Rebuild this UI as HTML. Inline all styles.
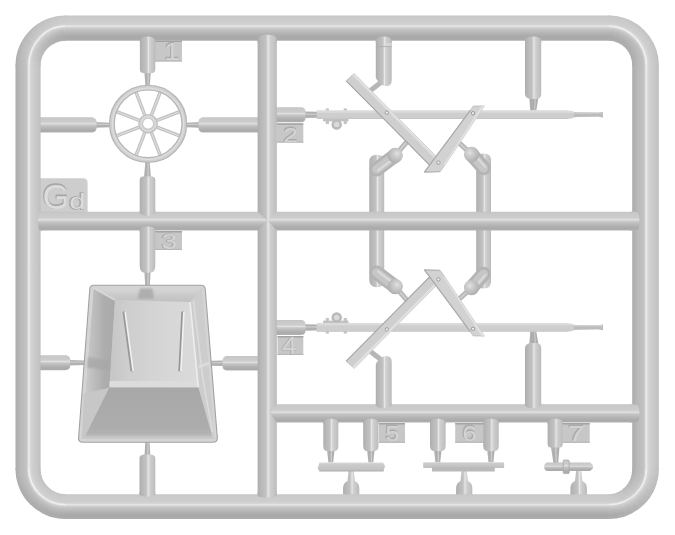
<!DOCTYPE html>
<html><head><meta charset="utf-8"><title>Sprue Gd</title>
<style>
html,body{margin:0;padding:0;background:#ffffff;}
body{width:675px;height:535px;overflow:hidden;font-family:"Liberation Sans",sans-serif;}
svg text{font-family:"Liberation Sans",sans-serif;}
</style></head><body>
<svg width="675" height="535" viewBox="0 0 675 535" style="display:block">
<defs><linearGradient id="gv" x1="0" x2="1" y1="0" y2="0"><stop offset="0.000" stop-color="#acacac"/><stop offset="0.070" stop-color="#b2b2b2"/><stop offset="0.200" stop-color="#b9b9b9"/><stop offset="0.420" stop-color="#c1c1c1"/><stop offset="0.490" stop-color="#d0d0d0"/><stop offset="0.550" stop-color="#e8e8e8"/><stop offset="0.610" stop-color="#d6d6d6"/><stop offset="0.700" stop-color="#cccccc"/><stop offset="0.850" stop-color="#c5c5c5"/><stop offset="0.950" stop-color="#bebebe"/><stop offset="1.000" stop-color="#b8b8b8"/></linearGradient><linearGradient id="gh" x1="0" x2="0" y1="0" y2="1"><stop offset="0.000" stop-color="#c2c2c2"/><stop offset="0.060" stop-color="#c8c8c8"/><stop offset="0.300" stop-color="#cccccc"/><stop offset="0.380" stop-color="#d4d4d4"/><stop offset="0.430" stop-color="#e4e4e4"/><stop offset="0.480" stop-color="#d0d0d0"/><stop offset="0.550" stop-color="#c4c4c4"/><stop offset="0.700" stop-color="#b6b6b6"/><stop offset="0.860" stop-color="#ababab"/><stop offset="0.940" stop-color="#acacac"/><stop offset="1.000" stop-color="#b4b4b4"/></linearGradient>

<linearGradient id="gbar" x1="0" x2="0" y1="0" y2="1">
 <stop offset="0" stop-color="#dcdcdc"/><stop offset="0.25" stop-color="#dadada"/>
 <stop offset="0.3" stop-color="#cfcfcf"/><stop offset="0.9" stop-color="#cdcdcd"/>
 <stop offset="1" stop-color="#bcbcbc"/>
</linearGradient>
<linearGradient id="gfront" x1="0" x2="0" y1="0" y2="1">
 <stop offset="0" stop-color="#bdbdbd"/><stop offset="1" stop-color="#c5c5c5"/>
</linearGradient>
<linearGradient id="gface" x1="0" x2="1" y1="0" y2="0">
 <stop offset="0" stop-color="#d0d0d0"/><stop offset="0.6" stop-color="#d6d6d6"/><stop offset="1" stop-color="#dbdbdb"/>
</linearGradient>
<linearGradient id="gleft" x1="0" x2="1" y1="0" y2="0">
 <stop offset="0" stop-color="#c8c8c8"/><stop offset="0.35" stop-color="#bcbcbc"/><stop offset="0.7" stop-color="#cbcbcb"/><stop offset="1" stop-color="#c4c4c4"/>
</linearGradient>
<filter id="b05" x="-5%" y="-5%" width="110%" height="110%"><feGaussianBlur stdDeviation="0.45"/></filter>
<filter id="b1" x="-5%" y="-5%" width="110%" height="110%"><feGaussianBlur stdDeviation="1"/></filter>
<filter id="b2" x="-5%" y="-5%" width="110%" height="110%"><feGaussianBlur stdDeviation="2.2"/></filter>
<clipPath id="cf"><path d="M65.5,15.5 H609.0 A49.799999999999955,50.0 0 0 1 658.8,65.5 V469.0 A49.799999999999955,50.0 0 0 1 609.0,519.0 H65.5 A50.0,50.0 0 0 1 15.5,469.0 V65.5 A50.0,50.0 0 0 1 65.5,15.5 Z M65.5,40.8 H609.0 A23.200000000000045,24.700000000000003 0 0 1 632.2,65.5 V469.0 A23.200000000000045,25.19999999999999 0 0 1 609.0,494.2 H65.5 A24.9,25.19999999999999 0 0 1 40.6,469.0 V65.5 A24.9,24.700000000000003 0 0 1 65.5,40.8 Z" clip-rule="evenodd" fill-rule="evenodd"/></clipPath><linearGradient id="gft" gradientUnits="userSpaceOnUse" x1="0" y1="15.5" x2="0" y2="40.8"><stop offset="0.000" stop-color="#c6c6c6"/><stop offset="0.060" stop-color="#cacaca"/><stop offset="0.300" stop-color="#cecece"/><stop offset="0.370" stop-color="#d4d4d4"/><stop offset="0.420" stop-color="#e0e0e0"/><stop offset="0.480" stop-color="#d0d0d0"/><stop offset="0.550" stop-color="#c4c4c4"/><stop offset="0.700" stop-color="#b4b4b4"/><stop offset="0.840" stop-color="#a9a9a9"/><stop offset="0.940" stop-color="#aaaaaa"/><stop offset="1.000" stop-color="#b0b0b0"/></linearGradient><linearGradient id="gfb" gradientUnits="userSpaceOnUse" x1="0" y1="494.2" x2="0" y2="519.0"><stop offset="0.000" stop-color="#c6c6c6"/><stop offset="0.060" stop-color="#cacaca"/><stop offset="0.300" stop-color="#cecece"/><stop offset="0.370" stop-color="#d4d4d4"/><stop offset="0.420" stop-color="#e0e0e0"/><stop offset="0.480" stop-color="#d0d0d0"/><stop offset="0.550" stop-color="#c4c4c4"/><stop offset="0.700" stop-color="#b4b4b4"/><stop offset="0.840" stop-color="#a9a9a9"/><stop offset="0.940" stop-color="#aaaaaa"/><stop offset="1.000" stop-color="#b0b0b0"/></linearGradient><linearGradient id="gfl" gradientUnits="userSpaceOnUse" x1="15.5" y1="0" x2="40.6" y2="0"><stop offset="0.000" stop-color="#acacac"/><stop offset="0.070" stop-color="#b0b0b0"/><stop offset="0.200" stop-color="#b9b9b9"/><stop offset="0.420" stop-color="#c1c1c1"/><stop offset="0.480" stop-color="#d0d0d0"/><stop offset="0.530" stop-color="#e8e8e8"/><stop offset="0.590" stop-color="#d8d8d8"/><stop offset="0.680" stop-color="#cfcfcf"/><stop offset="0.850" stop-color="#c8c8c8"/><stop offset="0.950" stop-color="#c2c2c2"/><stop offset="1.000" stop-color="#bebebe"/></linearGradient><linearGradient id="gfr" gradientUnits="userSpaceOnUse" x1="632.2" y1="0" x2="658.8" y2="0"><stop offset="0.000" stop-color="#acacac"/><stop offset="0.070" stop-color="#b0b0b0"/><stop offset="0.200" stop-color="#b9b9b9"/><stop offset="0.420" stop-color="#c1c1c1"/><stop offset="0.480" stop-color="#d0d0d0"/><stop offset="0.530" stop-color="#e8e8e8"/><stop offset="0.590" stop-color="#d8d8d8"/><stop offset="0.680" stop-color="#cfcfcf"/><stop offset="0.850" stop-color="#c8c8c8"/><stop offset="0.950" stop-color="#c2c2c2"/><stop offset="1.000" stop-color="#bebebe"/></linearGradient><linearGradient id="gd1" gradientUnits="objectBoundingBox" x1="0.15" y1="0.15" x2="0.85" y2="0.85"><stop offset="0" stop-color="#adadad"/><stop offset="0.35" stop-color="#bcbcbc"/><stop offset="0.5" stop-color="#dcdcdc"/><stop offset="0.65" stop-color="#c8c8c8"/><stop offset="1" stop-color="#b8b8b8"/></linearGradient><radialGradient id="gball" cx="0.62" cy="0.38" r="0.7"><stop offset="0" stop-color="#e2e2e2"/><stop offset="0.3" stop-color="#cecece"/><stop offset="0.75" stop-color="#b8b8b8"/><stop offset="1" stop-color="#a8a8a8"/></radialGradient><radialGradient id="gball2" cx="0.38" cy="0.38" r="0.7"><stop offset="0" stop-color="#e2e2e2"/><stop offset="0.3" stop-color="#cecece"/><stop offset="0.75" stop-color="#b8b8b8"/><stop offset="1" stop-color="#a8a8a8"/></radialGradient><linearGradient id="bxl" gradientUnits="userSpaceOnUse" x1="86" y1="0" x2="114" y2="0"><stop offset="0" stop-color="#cacaca"/><stop offset="0.3" stop-color="#bcbcbc"/><stop offset="0.65" stop-color="#adadad"/><stop offset="1" stop-color="#aaaaaa"/></linearGradient><linearGradient id="bxt" gradientUnits="userSpaceOnUse" x1="0" y1="288" x2="0" y2="301.5"><stop offset="0" stop-color="#d6d6d6"/><stop offset="0.5" stop-color="#cbcbcb"/><stop offset="1" stop-color="#c0c0c0"/></linearGradient><linearGradient id="bxf" gradientUnits="userSpaceOnUse" x1="110" y1="0" x2="198" y2="0"><stop offset="0" stop-color="#c6c6c6"/><stop offset="0.2" stop-color="#cecece"/><stop offset="0.6" stop-color="#d6d6d6"/><stop offset="1" stop-color="#dadada"/></linearGradient><linearGradient id="bxfr" gradientUnits="userSpaceOnUse" x1="0" y1="387" x2="0" y2="437"><stop offset="0" stop-color="#a8a8a8"/><stop offset="0.8" stop-color="#acacac"/><stop offset="0.93" stop-color="#b2b2b2"/><stop offset="1" stop-color="#c0c0c0"/></linearGradient><linearGradient id="gp" x1="0" x2="0" y1="0" y2="1"><stop offset="0" stop-color="#dcdcdc"/><stop offset="0.22" stop-color="#cccccc"/><stop offset="0.8" stop-color="#c2c2c2"/><stop offset="1" stop-color="#adadad"/></linearGradient><radialGradient id="ctl0" gradientUnits="userSpaceOnUse" cx="65.5" cy="65.5" r="50.00"><stop offset="0.4978" stop-color="#bdbdbd"/><stop offset="0.5187" stop-color="#c0c0c0"/><stop offset="0.5396" stop-color="#c3c3c3"/><stop offset="0.5606" stop-color="#c5c5c5"/><stop offset="0.5815" stop-color="#c7c7c7"/><stop offset="0.6024" stop-color="#c9c9c9"/><stop offset="0.6233" stop-color="#cbcbcb"/><stop offset="0.6443" stop-color="#cdcdcd"/><stop offset="0.6652" stop-color="#cfcfcf"/><stop offset="0.6861" stop-color="#d3d3d3"/><stop offset="0.7070" stop-color="#d9d9d9"/><stop offset="0.7280" stop-color="#e3e3e3"/><stop offset="0.7489" stop-color="#d9d9d9"/><stop offset="0.7698" stop-color="#cbcbcb"/><stop offset="0.7908" stop-color="#c2c2c2"/><stop offset="0.8117" stop-color="#c0c0c0"/><stop offset="0.8326" stop-color="#bfbfbf"/><stop offset="0.8535" stop-color="#bdbdbd"/><stop offset="0.8744" stop-color="#bcbcbc"/><stop offset="0.8954" stop-color="#bababa"/><stop offset="0.9163" stop-color="#b8b8b8"/><stop offset="0.9372" stop-color="#b5b5b5"/><stop offset="0.9581" stop-color="#b2b2b2"/><stop offset="0.9791" stop-color="#b0b0b0"/><stop offset="1.0000" stop-color="#adadad"/></radialGradient><radialGradient id="ctl1" gradientUnits="userSpaceOnUse" cx="65.5" cy="65.5" r="50.00"><stop offset="0.4974" stop-color="#bcbcbc"/><stop offset="0.5183" stop-color="#bebebe"/><stop offset="0.5393" stop-color="#c0c0c0"/><stop offset="0.5602" stop-color="#c2c2c2"/><stop offset="0.5812" stop-color="#c4c4c4"/><stop offset="0.6021" stop-color="#c6c6c6"/><stop offset="0.6230" stop-color="#c8c8c8"/><stop offset="0.6440" stop-color="#cacaca"/><stop offset="0.6649" stop-color="#cdcdcd"/><stop offset="0.6859" stop-color="#d1d1d1"/><stop offset="0.7068" stop-color="#d6d6d6"/><stop offset="0.7278" stop-color="#e0e0e0"/><stop offset="0.7487" stop-color="#d8d8d8"/><stop offset="0.7696" stop-color="#cccccc"/><stop offset="0.7906" stop-color="#c5c5c5"/><stop offset="0.8115" stop-color="#c3c3c3"/><stop offset="0.8325" stop-color="#c1c1c1"/><stop offset="0.8534" stop-color="#bfbfbf"/><stop offset="0.8744" stop-color="#bebebe"/><stop offset="0.8953" stop-color="#bcbcbc"/><stop offset="0.9162" stop-color="#bababa"/><stop offset="0.9372" stop-color="#b7b7b7"/><stop offset="0.9581" stop-color="#b5b5b5"/><stop offset="0.9791" stop-color="#b2b2b2"/><stop offset="1.0000" stop-color="#b0b0b0"/></radialGradient><radialGradient id="ctl2" gradientUnits="userSpaceOnUse" cx="65.5" cy="65.5" r="50.00"><stop offset="0.4970" stop-color="#bababa"/><stop offset="0.5180" stop-color="#bcbcbc"/><stop offset="0.5389" stop-color="#bdbdbd"/><stop offset="0.5599" stop-color="#bfbfbf"/><stop offset="0.5808" stop-color="#c1c1c1"/><stop offset="0.6018" stop-color="#c3c3c3"/><stop offset="0.6228" stop-color="#c5c5c5"/><stop offset="0.6437" stop-color="#c7c7c7"/><stop offset="0.6647" stop-color="#cacaca"/><stop offset="0.6856" stop-color="#cecece"/><stop offset="0.7066" stop-color="#d3d3d3"/><stop offset="0.7275" stop-color="#dddddd"/><stop offset="0.7485" stop-color="#d6d6d6"/><stop offset="0.7695" stop-color="#cdcdcd"/><stop offset="0.7904" stop-color="#c8c8c8"/><stop offset="0.8114" stop-color="#c5c5c5"/><stop offset="0.8323" stop-color="#c3c3c3"/><stop offset="0.8533" stop-color="#c1c1c1"/><stop offset="0.8742" stop-color="#bfbfbf"/><stop offset="0.8952" stop-color="#bebebe"/><stop offset="0.9162" stop-color="#bcbcbc"/><stop offset="0.9371" stop-color="#bababa"/><stop offset="0.9581" stop-color="#b7b7b7"/><stop offset="0.9790" stop-color="#b5b5b5"/><stop offset="1.0000" stop-color="#b2b2b2"/></radialGradient><radialGradient id="ctl3" gradientUnits="userSpaceOnUse" cx="65.5" cy="65.5" r="50.00"><stop offset="0.4966" stop-color="#b9b9b9"/><stop offset="0.5176" stop-color="#bababa"/><stop offset="0.5385" stop-color="#bbbbbb"/><stop offset="0.5595" stop-color="#bcbcbc"/><stop offset="0.5805" stop-color="#bebebe"/><stop offset="0.6015" stop-color="#c0c0c0"/><stop offset="0.6224" stop-color="#c2c2c2"/><stop offset="0.6434" stop-color="#c5c5c5"/><stop offset="0.6644" stop-color="#c8c8c8"/><stop offset="0.6854" stop-color="#cccccc"/><stop offset="0.7063" stop-color="#d1d1d1"/><stop offset="0.7273" stop-color="#dadada"/><stop offset="0.7483" stop-color="#d5d5d5"/><stop offset="0.7693" stop-color="#cfcfcf"/><stop offset="0.7903" stop-color="#cbcbcb"/><stop offset="0.8112" stop-color="#c7c7c7"/><stop offset="0.8322" stop-color="#c5c5c5"/><stop offset="0.8532" stop-color="#c2c2c2"/><stop offset="0.8741" stop-color="#c1c1c1"/><stop offset="0.8951" stop-color="#c0c0c0"/><stop offset="0.9161" stop-color="#bebebe"/><stop offset="0.9371" stop-color="#bcbcbc"/><stop offset="0.9581" stop-color="#bababa"/><stop offset="0.9790" stop-color="#b8b8b8"/><stop offset="1.0000" stop-color="#b5b5b5"/></radialGradient><radialGradient id="ctl4" gradientUnits="userSpaceOnUse" cx="65.5" cy="65.5" r="50.00"><stop offset="0.4962" stop-color="#b8b8b8"/><stop offset="0.5172" stop-color="#b8b8b8"/><stop offset="0.5382" stop-color="#b8b8b8"/><stop offset="0.5592" stop-color="#b9b9b9"/><stop offset="0.5802" stop-color="#bbbbbb"/><stop offset="0.6012" stop-color="#bdbdbd"/><stop offset="0.6221" stop-color="#bfbfbf"/><stop offset="0.6431" stop-color="#c2c2c2"/><stop offset="0.6641" stop-color="#c5c5c5"/><stop offset="0.6851" stop-color="#c9c9c9"/><stop offset="0.7061" stop-color="#cecece"/><stop offset="0.7271" stop-color="#d7d7d7"/><stop offset="0.7481" stop-color="#d4d4d4"/><stop offset="0.7691" stop-color="#d0d0d0"/><stop offset="0.7901" stop-color="#cfcfcf"/><stop offset="0.8111" stop-color="#c9c9c9"/><stop offset="0.8321" stop-color="#c6c6c6"/><stop offset="0.8531" stop-color="#c4c4c4"/><stop offset="0.8740" stop-color="#c3c3c3"/><stop offset="0.8950" stop-color="#c2c2c2"/><stop offset="0.9160" stop-color="#c0c0c0"/><stop offset="0.9370" stop-color="#bebebe"/><stop offset="0.9580" stop-color="#bcbcbc"/><stop offset="0.9790" stop-color="#bababa"/><stop offset="1.0000" stop-color="#b8b8b8"/></radialGradient><radialGradient id="ctl5" gradientUnits="userSpaceOnUse" cx="65.5" cy="65.5" r="50.00"><stop offset="0.4958" stop-color="#b6b6b6"/><stop offset="0.5168" stop-color="#b6b6b6"/><stop offset="0.5378" stop-color="#b6b6b6"/><stop offset="0.5588" stop-color="#b6b6b6"/><stop offset="0.5798" stop-color="#b8b8b8"/><stop offset="0.6008" stop-color="#bababa"/><stop offset="0.6219" stop-color="#bdbdbd"/><stop offset="0.6429" stop-color="#bfbfbf"/><stop offset="0.6639" stop-color="#c3c3c3"/><stop offset="0.6849" stop-color="#c7c7c7"/><stop offset="0.7059" stop-color="#cccccc"/><stop offset="0.7269" stop-color="#d4d4d4"/><stop offset="0.7479" stop-color="#d2d2d2"/><stop offset="0.7689" stop-color="#d1d1d1"/><stop offset="0.7899" stop-color="#d2d2d2"/><stop offset="0.8109" stop-color="#cbcbcb"/><stop offset="0.8319" stop-color="#c8c8c8"/><stop offset="0.8529" stop-color="#c6c6c6"/><stop offset="0.8740" stop-color="#c5c5c5"/><stop offset="0.8950" stop-color="#c4c4c4"/><stop offset="0.9160" stop-color="#c2c2c2"/><stop offset="0.9370" stop-color="#c1c1c1"/><stop offset="0.9580" stop-color="#bfbfbf"/><stop offset="0.9790" stop-color="#bdbdbd"/><stop offset="1.0000" stop-color="#bababa"/></radialGradient><radialGradient id="ctl6" gradientUnits="userSpaceOnUse" cx="65.5" cy="65.5" r="50.00"><stop offset="0.4954" stop-color="#b5b5b5"/><stop offset="0.5164" stop-color="#b3b3b3"/><stop offset="0.5375" stop-color="#b3b3b3"/><stop offset="0.5585" stop-color="#b4b4b4"/><stop offset="0.5795" stop-color="#b4b4b4"/><stop offset="0.6005" stop-color="#b7b7b7"/><stop offset="0.6216" stop-color="#bababa"/><stop offset="0.6426" stop-color="#bdbdbd"/><stop offset="0.6636" stop-color="#c0c0c0"/><stop offset="0.6846" stop-color="#c5c5c5"/><stop offset="0.7056" stop-color="#c9c9c9"/><stop offset="0.7267" stop-color="#d0d0d0"/><stop offset="0.7477" stop-color="#d1d1d1"/><stop offset="0.7687" stop-color="#d2d2d2"/><stop offset="0.7898" stop-color="#d5d5d5"/><stop offset="0.8108" stop-color="#cecece"/><stop offset="0.8318" stop-color="#cacaca"/><stop offset="0.8528" stop-color="#c8c8c8"/><stop offset="0.8739" stop-color="#c7c7c7"/><stop offset="0.8949" stop-color="#c6c6c6"/><stop offset="0.9159" stop-color="#c4c4c4"/><stop offset="0.9369" stop-color="#c3c3c3"/><stop offset="0.9579" stop-color="#c1c1c1"/><stop offset="0.9790" stop-color="#c0c0c0"/><stop offset="1.0000" stop-color="#bdbdbd"/></radialGradient><radialGradient id="ctl7" gradientUnits="userSpaceOnUse" cx="65.5" cy="65.5" r="50.00"><stop offset="0.4950" stop-color="#b4b4b4"/><stop offset="0.5160" stop-color="#b1b1b1"/><stop offset="0.5371" stop-color="#b0b0b0"/><stop offset="0.5581" stop-color="#b1b1b1"/><stop offset="0.5792" stop-color="#b1b1b1"/><stop offset="0.6002" stop-color="#b4b4b4"/><stop offset="0.6212" stop-color="#b7b7b7"/><stop offset="0.6423" stop-color="#bababa"/><stop offset="0.6633" stop-color="#bebebe"/><stop offset="0.6844" stop-color="#c2c2c2"/><stop offset="0.7054" stop-color="#c7c7c7"/><stop offset="0.7265" stop-color="#cdcdcd"/><stop offset="0.7475" stop-color="#d0d0d0"/><stop offset="0.7685" stop-color="#d3d3d3"/><stop offset="0.7896" stop-color="#d8d8d8"/><stop offset="0.8106" stop-color="#d0d0d0"/><stop offset="0.8317" stop-color="#cccccc"/><stop offset="0.8527" stop-color="#c9c9c9"/><stop offset="0.8738" stop-color="#c9c9c9"/><stop offset="0.8948" stop-color="#c8c8c8"/><stop offset="0.9158" stop-color="#c7c7c7"/><stop offset="0.9369" stop-color="#c5c5c5"/><stop offset="0.9579" stop-color="#c4c4c4"/><stop offset="0.9790" stop-color="#c2c2c2"/><stop offset="1.0000" stop-color="#c0c0c0"/></radialGradient><radialGradient id="ctl8" gradientUnits="userSpaceOnUse" cx="65.5" cy="65.5" r="50.00"><stop offset="0.4946" stop-color="#b2b2b2"/><stop offset="0.5157" stop-color="#afafaf"/><stop offset="0.5367" stop-color="#aeaeae"/><stop offset="0.5578" stop-color="#aeaeae"/><stop offset="0.5788" stop-color="#aeaeae"/><stop offset="0.5999" stop-color="#b1b1b1"/><stop offset="0.6210" stop-color="#b4b4b4"/><stop offset="0.6420" stop-color="#b7b7b7"/><stop offset="0.6631" stop-color="#bbbbbb"/><stop offset="0.6841" stop-color="#c0c0c0"/><stop offset="0.7052" stop-color="#c4c4c4"/><stop offset="0.7262" stop-color="#cacaca"/><stop offset="0.7473" stop-color="#cfcfcf"/><stop offset="0.7684" stop-color="#d4d4d4"/><stop offset="0.7894" stop-color="#dbdbdb"/><stop offset="0.8105" stop-color="#d2d2d2"/><stop offset="0.8315" stop-color="#cecece"/><stop offset="0.8526" stop-color="#cbcbcb"/><stop offset="0.8737" stop-color="#cacaca"/><stop offset="0.8947" stop-color="#cacaca"/><stop offset="0.9158" stop-color="#c9c9c9"/><stop offset="0.9368" stop-color="#c8c8c8"/><stop offset="0.9579" stop-color="#c7c7c7"/><stop offset="0.9789" stop-color="#c5c5c5"/><stop offset="1.0000" stop-color="#c2c2c2"/></radialGradient><radialGradient id="ctl9" gradientUnits="userSpaceOnUse" cx="65.5" cy="65.5" r="50.00"><stop offset="0.4942" stop-color="#b1b1b1"/><stop offset="0.5153" stop-color="#adadad"/><stop offset="0.5364" stop-color="#ababab"/><stop offset="0.5574" stop-color="#ababab"/><stop offset="0.5785" stop-color="#ababab"/><stop offset="0.5996" stop-color="#aeaeae"/><stop offset="0.6206" stop-color="#b1b1b1"/><stop offset="0.6417" stop-color="#b5b5b5"/><stop offset="0.6628" stop-color="#b9b9b9"/><stop offset="0.6839" stop-color="#bdbdbd"/><stop offset="0.7050" stop-color="#c2c2c2"/><stop offset="0.7260" stop-color="#c7c7c7"/><stop offset="0.7471" stop-color="#cdcdcd"/><stop offset="0.7682" stop-color="#d5d5d5"/><stop offset="0.7893" stop-color="#dedede"/><stop offset="0.8103" stop-color="#d4d4d4"/><stop offset="0.8314" stop-color="#d0d0d0"/><stop offset="0.8525" stop-color="#cdcdcd"/><stop offset="0.8736" stop-color="#cccccc"/><stop offset="0.8946" stop-color="#cccccc"/><stop offset="0.9157" stop-color="#cbcbcb"/><stop offset="0.9368" stop-color="#cacaca"/><stop offset="0.9578" stop-color="#c9c9c9"/><stop offset="0.9789" stop-color="#c7c7c7"/><stop offset="1.0000" stop-color="#c5c5c5"/></radialGradient><radialGradient id="ctr0" gradientUnits="userSpaceOnUse" cx="609.0" cy="65.5" r="49.99"><stop offset="0.4926" stop-color="#b0b0b0"/><stop offset="0.5137" stop-color="#acacac"/><stop offset="0.5349" stop-color="#aaaaaa"/><stop offset="0.5560" stop-color="#aaaaaa"/><stop offset="0.5772" stop-color="#aaaaaa"/><stop offset="0.5983" stop-color="#adadad"/><stop offset="0.6194" stop-color="#b1b1b1"/><stop offset="0.6406" stop-color="#b4b4b4"/><stop offset="0.6617" stop-color="#b8b8b8"/><stop offset="0.6829" stop-color="#bcbcbc"/><stop offset="0.7040" stop-color="#c0c0c0"/><stop offset="0.7252" stop-color="#c6c6c6"/><stop offset="0.7463" stop-color="#cdcdcd"/><stop offset="0.7674" stop-color="#d7d7d7"/><stop offset="0.7886" stop-color="#dfdfdf"/><stop offset="0.8097" stop-color="#d5d5d5"/><stop offset="0.8309" stop-color="#d1d1d1"/><stop offset="0.8520" stop-color="#cecece"/><stop offset="0.8731" stop-color="#cdcdcd"/><stop offset="0.8943" stop-color="#cccccc"/><stop offset="0.9154" stop-color="#cccccc"/><stop offset="0.9366" stop-color="#cbcbcb"/><stop offset="0.9577" stop-color="#cacaca"/><stop offset="0.9789" stop-color="#c8c8c8"/><stop offset="1.0000" stop-color="#c6c6c6"/></radialGradient><radialGradient id="ctr1" gradientUnits="userSpaceOnUse" cx="609.0" cy="65.5" r="49.97"><stop offset="0.4898" stop-color="#afafaf"/><stop offset="0.5111" stop-color="#acacac"/><stop offset="0.5323" stop-color="#ababab"/><stop offset="0.5536" stop-color="#ababab"/><stop offset="0.5748" stop-color="#ababab"/><stop offset="0.5961" stop-color="#afafaf"/><stop offset="0.6173" stop-color="#b2b2b2"/><stop offset="0.6386" stop-color="#b5b5b5"/><stop offset="0.6599" stop-color="#b8b8b8"/><stop offset="0.6811" stop-color="#bdbdbd"/><stop offset="0.7024" stop-color="#c1c1c1"/><stop offset="0.7236" stop-color="#c6c6c6"/><stop offset="0.7449" stop-color="#cfcfcf"/><stop offset="0.7662" stop-color="#d8d8d8"/><stop offset="0.7874" stop-color="#dedede"/><stop offset="0.8087" stop-color="#d5d5d5"/><stop offset="0.8299" stop-color="#d1d1d1"/><stop offset="0.8512" stop-color="#cecece"/><stop offset="0.8724" stop-color="#cdcdcd"/><stop offset="0.8937" stop-color="#cccccc"/><stop offset="0.9150" stop-color="#cbcbcb"/><stop offset="0.9362" stop-color="#cacaca"/><stop offset="0.9575" stop-color="#c9c9c9"/><stop offset="0.9787" stop-color="#c8c8c8"/><stop offset="1.0000" stop-color="#c5c5c5"/></radialGradient><radialGradient id="ctr2" gradientUnits="userSpaceOnUse" cx="609.0" cy="65.5" r="49.95"><stop offset="0.4870" stop-color="#afafaf"/><stop offset="0.5084" stop-color="#acacac"/><stop offset="0.5297" stop-color="#acacac"/><stop offset="0.5511" stop-color="#acacac"/><stop offset="0.5725" stop-color="#adadad"/><stop offset="0.5939" stop-color="#b0b0b0"/><stop offset="0.6152" stop-color="#b3b3b3"/><stop offset="0.6366" stop-color="#b6b6b6"/><stop offset="0.6580" stop-color="#b9b9b9"/><stop offset="0.6794" stop-color="#bdbdbd"/><stop offset="0.7007" stop-color="#c1c1c1"/><stop offset="0.7221" stop-color="#c7c7c7"/><stop offset="0.7435" stop-color="#d0d0d0"/><stop offset="0.7649" stop-color="#dadada"/><stop offset="0.7862" stop-color="#dedede"/><stop offset="0.8076" stop-color="#d5d5d5"/><stop offset="0.8290" stop-color="#d1d1d1"/><stop offset="0.8504" stop-color="#cecece"/><stop offset="0.8717" stop-color="#cdcdcd"/><stop offset="0.8931" stop-color="#cccccc"/><stop offset="0.9145" stop-color="#cbcbcb"/><stop offset="0.9359" stop-color="#cacaca"/><stop offset="0.9572" stop-color="#c9c9c9"/><stop offset="0.9786" stop-color="#c7c7c7"/><stop offset="1.0000" stop-color="#c4c4c4"/></radialGradient><radialGradient id="ctr3" gradientUnits="userSpaceOnUse" cx="609.0" cy="65.5" r="49.93"><stop offset="0.4842" stop-color="#afafaf"/><stop offset="0.5057" stop-color="#adadad"/><stop offset="0.5272" stop-color="#acacac"/><stop offset="0.5487" stop-color="#adadad"/><stop offset="0.5701" stop-color="#aeaeae"/><stop offset="0.5916" stop-color="#b1b1b1"/><stop offset="0.6131" stop-color="#b4b4b4"/><stop offset="0.6346" stop-color="#b6b6b6"/><stop offset="0.6561" stop-color="#bababa"/><stop offset="0.6776" stop-color="#bdbdbd"/><stop offset="0.6991" stop-color="#c1c1c1"/><stop offset="0.7206" stop-color="#c7c7c7"/><stop offset="0.7421" stop-color="#d1d1d1"/><stop offset="0.7636" stop-color="#dbdbdb"/><stop offset="0.7851" stop-color="#dddddd"/><stop offset="0.8066" stop-color="#d5d5d5"/><stop offset="0.8281" stop-color="#d1d1d1"/><stop offset="0.8496" stop-color="#cecece"/><stop offset="0.8710" stop-color="#cdcdcd"/><stop offset="0.8925" stop-color="#cccccc"/><stop offset="0.9140" stop-color="#cbcbcb"/><stop offset="0.9355" stop-color="#c9c9c9"/><stop offset="0.9570" stop-color="#c8c8c8"/><stop offset="0.9785" stop-color="#c6c6c6"/><stop offset="1.0000" stop-color="#c3c3c3"/></radialGradient><radialGradient id="ctr4" gradientUnits="userSpaceOnUse" cx="609.0" cy="65.5" r="49.91"><stop offset="0.4814" stop-color="#aeaeae"/><stop offset="0.5030" stop-color="#adadad"/><stop offset="0.5246" stop-color="#adadad"/><stop offset="0.5462" stop-color="#aeaeae"/><stop offset="0.5678" stop-color="#afafaf"/><stop offset="0.5894" stop-color="#b2b2b2"/><stop offset="0.6110" stop-color="#b5b5b5"/><stop offset="0.6326" stop-color="#b7b7b7"/><stop offset="0.6542" stop-color="#bababa"/><stop offset="0.6759" stop-color="#bebebe"/><stop offset="0.6975" stop-color="#c1c1c1"/><stop offset="0.7191" stop-color="#c8c8c8"/><stop offset="0.7407" stop-color="#d2d2d2"/><stop offset="0.7623" stop-color="#dddddd"/><stop offset="0.7839" stop-color="#dddddd"/><stop offset="0.8055" stop-color="#d5d5d5"/><stop offset="0.8271" stop-color="#d1d1d1"/><stop offset="0.8487" stop-color="#cecece"/><stop offset="0.8703" stop-color="#cdcdcd"/><stop offset="0.8920" stop-color="#cccccc"/><stop offset="0.9136" stop-color="#cacaca"/><stop offset="0.9352" stop-color="#c9c9c9"/><stop offset="0.9568" stop-color="#c8c8c8"/><stop offset="0.9784" stop-color="#c5c5c5"/><stop offset="1.0000" stop-color="#c2c2c2"/></radialGradient><radialGradient id="ctr5" gradientUnits="userSpaceOnUse" cx="609.0" cy="65.5" r="49.89"><stop offset="0.4786" stop-color="#aeaeae"/><stop offset="0.5003" stop-color="#adadad"/><stop offset="0.5220" stop-color="#aeaeae"/><stop offset="0.5437" stop-color="#afafaf"/><stop offset="0.5655" stop-color="#b1b1b1"/><stop offset="0.5872" stop-color="#b4b4b4"/><stop offset="0.6089" stop-color="#b6b6b6"/><stop offset="0.6306" stop-color="#b8b8b8"/><stop offset="0.6524" stop-color="#bbbbbb"/><stop offset="0.6741" stop-color="#bebebe"/><stop offset="0.6958" stop-color="#c1c1c1"/><stop offset="0.7175" stop-color="#c8c8c8"/><stop offset="0.7393" stop-color="#d4d4d4"/><stop offset="0.7610" stop-color="#dedede"/><stop offset="0.7827" stop-color="#dcdcdc"/><stop offset="0.8045" stop-color="#d5d5d5"/><stop offset="0.8262" stop-color="#d1d1d1"/><stop offset="0.8479" stop-color="#cecece"/><stop offset="0.8696" stop-color="#cdcdcd"/><stop offset="0.8914" stop-color="#cbcbcb"/><stop offset="0.9131" stop-color="#cacaca"/><stop offset="0.9348" stop-color="#c9c9c9"/><stop offset="0.9565" stop-color="#c7c7c7"/><stop offset="0.9783" stop-color="#c5c5c5"/><stop offset="1.0000" stop-color="#c2c2c2"/></radialGradient><radialGradient id="ctr6" gradientUnits="userSpaceOnUse" cx="609.0" cy="65.5" r="49.87"><stop offset="0.4757" stop-color="#adadad"/><stop offset="0.4976" stop-color="#adadad"/><stop offset="0.5194" stop-color="#aeaeae"/><stop offset="0.5413" stop-color="#b0b0b0"/><stop offset="0.5631" stop-color="#b2b2b2"/><stop offset="0.5850" stop-color="#b5b5b5"/><stop offset="0.6068" stop-color="#b7b7b7"/><stop offset="0.6286" stop-color="#b9b9b9"/><stop offset="0.6505" stop-color="#bcbcbc"/><stop offset="0.6723" stop-color="#bebebe"/><stop offset="0.6942" stop-color="#c1c1c1"/><stop offset="0.7160" stop-color="#c9c9c9"/><stop offset="0.7379" stop-color="#d5d5d5"/><stop offset="0.7597" stop-color="#e0e0e0"/><stop offset="0.7816" stop-color="#dcdcdc"/><stop offset="0.8034" stop-color="#d5d5d5"/><stop offset="0.8252" stop-color="#d1d1d1"/><stop offset="0.8471" stop-color="#cecece"/><stop offset="0.8689" stop-color="#cccccc"/><stop offset="0.8908" stop-color="#cbcbcb"/><stop offset="0.9126" stop-color="#cacaca"/><stop offset="0.9345" stop-color="#c8c8c8"/><stop offset="0.9563" stop-color="#c6c6c6"/><stop offset="0.9782" stop-color="#c4c4c4"/><stop offset="1.0000" stop-color="#c1c1c1"/></radialGradient><radialGradient id="ctr7" gradientUnits="userSpaceOnUse" cx="609.0" cy="65.5" r="49.85"><stop offset="0.4729" stop-color="#adadad"/><stop offset="0.4949" stop-color="#aeaeae"/><stop offset="0.5168" stop-color="#afafaf"/><stop offset="0.5388" stop-color="#b1b1b1"/><stop offset="0.5608" stop-color="#b3b3b3"/><stop offset="0.5827" stop-color="#b6b6b6"/><stop offset="0.6047" stop-color="#b8b8b8"/><stop offset="0.6267" stop-color="#bababa"/><stop offset="0.6486" stop-color="#bcbcbc"/><stop offset="0.6706" stop-color="#bfbfbf"/><stop offset="0.6925" stop-color="#c1c1c1"/><stop offset="0.7145" stop-color="#c9c9c9"/><stop offset="0.7365" stop-color="#d6d6d6"/><stop offset="0.7584" stop-color="#e1e1e1"/><stop offset="0.7804" stop-color="#dbdbdb"/><stop offset="0.8023" stop-color="#d5d5d5"/><stop offset="0.8243" stop-color="#d0d0d0"/><stop offset="0.8463" stop-color="#cecece"/><stop offset="0.8682" stop-color="#cccccc"/><stop offset="0.8902" stop-color="#cbcbcb"/><stop offset="0.9122" stop-color="#c9c9c9"/><stop offset="0.9341" stop-color="#c8c8c8"/><stop offset="0.9561" stop-color="#c6c6c6"/><stop offset="0.9780" stop-color="#c3c3c3"/><stop offset="1.0000" stop-color="#c0c0c0"/></radialGradient><radialGradient id="ctr8" gradientUnits="userSpaceOnUse" cx="609.0" cy="65.5" r="49.83"><stop offset="0.4701" stop-color="#adadad"/><stop offset="0.4922" stop-color="#aeaeae"/><stop offset="0.5143" stop-color="#b0b0b0"/><stop offset="0.5363" stop-color="#b2b2b2"/><stop offset="0.5584" stop-color="#b5b5b5"/><stop offset="0.5805" stop-color="#b7b7b7"/><stop offset="0.6026" stop-color="#b9b9b9"/><stop offset="0.6247" stop-color="#bbbbbb"/><stop offset="0.6467" stop-color="#bdbdbd"/><stop offset="0.6688" stop-color="#bfbfbf"/><stop offset="0.6909" stop-color="#c1c1c1"/><stop offset="0.7130" stop-color="#cacaca"/><stop offset="0.7350" stop-color="#d8d8d8"/><stop offset="0.7571" stop-color="#e3e3e3"/><stop offset="0.7792" stop-color="#dbdbdb"/><stop offset="0.8013" stop-color="#d5d5d5"/><stop offset="0.8234" stop-color="#d0d0d0"/><stop offset="0.8454" stop-color="#cecece"/><stop offset="0.8675" stop-color="#cccccc"/><stop offset="0.8896" stop-color="#cbcbcb"/><stop offset="0.9117" stop-color="#c9c9c9"/><stop offset="0.9338" stop-color="#c7c7c7"/><stop offset="0.9558" stop-color="#c5c5c5"/><stop offset="0.9779" stop-color="#c2c2c2"/><stop offset="1.0000" stop-color="#bfbfbf"/></radialGradient><radialGradient id="ctr9" gradientUnits="userSpaceOnUse" cx="609.0" cy="65.5" r="49.81"><stop offset="0.4673" stop-color="#acacac"/><stop offset="0.4895" stop-color="#aeaeae"/><stop offset="0.5117" stop-color="#b1b1b1"/><stop offset="0.5339" stop-color="#b3b3b3"/><stop offset="0.5561" stop-color="#b6b6b6"/><stop offset="0.5783" stop-color="#b9b9b9"/><stop offset="0.6005" stop-color="#bababa"/><stop offset="0.6227" stop-color="#bcbcbc"/><stop offset="0.6449" stop-color="#bebebe"/><stop offset="0.6670" stop-color="#bfbfbf"/><stop offset="0.6892" stop-color="#c1c1c1"/><stop offset="0.7114" stop-color="#cacaca"/><stop offset="0.7336" stop-color="#d9d9d9"/><stop offset="0.7558" stop-color="#e4e4e4"/><stop offset="0.7780" stop-color="#dadada"/><stop offset="0.8002" stop-color="#d5d5d5"/><stop offset="0.8224" stop-color="#d0d0d0"/><stop offset="0.8446" stop-color="#cecece"/><stop offset="0.8668" stop-color="#cccccc"/><stop offset="0.8890" stop-color="#cbcbcb"/><stop offset="0.9112" stop-color="#c9c9c9"/><stop offset="0.9334" stop-color="#c7c7c7"/><stop offset="0.9556" stop-color="#c4c4c4"/><stop offset="0.9778" stop-color="#c2c2c2"/><stop offset="1.0000" stop-color="#bebebe"/></radialGradient><radialGradient id="cbr0" gradientUnits="userSpaceOnUse" cx="609.0" cy="469.0" r="49.81"><stop offset="0.4678" stop-color="#adadad"/><stop offset="0.4900" stop-color="#b0b0b0"/><stop offset="0.5121" stop-color="#b2b2b2"/><stop offset="0.5343" stop-color="#b5b5b5"/><stop offset="0.5565" stop-color="#b8b8b8"/><stop offset="0.5787" stop-color="#bababa"/><stop offset="0.6008" stop-color="#bcbcbc"/><stop offset="0.6230" stop-color="#bdbdbd"/><stop offset="0.6452" stop-color="#bfbfbf"/><stop offset="0.6674" stop-color="#c0c0c0"/><stop offset="0.6895" stop-color="#c2c2c2"/><stop offset="0.7117" stop-color="#cbcbcb"/><stop offset="0.7339" stop-color="#d9d9d9"/><stop offset="0.7561" stop-color="#e3e3e3"/><stop offset="0.7782" stop-color="#d9d9d9"/><stop offset="0.8004" stop-color="#d3d3d3"/><stop offset="0.8226" stop-color="#cfcfcf"/><stop offset="0.8448" stop-color="#cdcdcd"/><stop offset="0.8669" stop-color="#cbcbcb"/><stop offset="0.8891" stop-color="#c9c9c9"/><stop offset="0.9113" stop-color="#c7c7c7"/><stop offset="0.9335" stop-color="#c5c5c5"/><stop offset="0.9556" stop-color="#c3c3c3"/><stop offset="0.9778" stop-color="#c0c0c0"/><stop offset="1.0000" stop-color="#bdbdbd"/></radialGradient><radialGradient id="cbr1" gradientUnits="userSpaceOnUse" cx="609.0" cy="469.0" r="49.83"><stop offset="0.4716" stop-color="#b0b0b0"/><stop offset="0.4936" stop-color="#b2b2b2"/><stop offset="0.5156" stop-color="#b5b5b5"/><stop offset="0.5377" stop-color="#b7b7b7"/><stop offset="0.5597" stop-color="#bababa"/><stop offset="0.5817" stop-color="#bcbcbc"/><stop offset="0.6037" stop-color="#bebebe"/><stop offset="0.6257" stop-color="#bfbfbf"/><stop offset="0.6477" stop-color="#c1c1c1"/><stop offset="0.6698" stop-color="#c3c3c3"/><stop offset="0.6918" stop-color="#c5c5c5"/><stop offset="0.7138" stop-color="#cccccc"/><stop offset="0.7358" stop-color="#d8d8d8"/><stop offset="0.7578" stop-color="#e0e0e0"/><stop offset="0.7798" stop-color="#d6d6d6"/><stop offset="0.8019" stop-color="#d1d1d1"/><stop offset="0.8239" stop-color="#cdcdcd"/><stop offset="0.8459" stop-color="#cacaca"/><stop offset="0.8679" stop-color="#c8c8c8"/><stop offset="0.8899" stop-color="#c6c6c6"/><stop offset="0.9119" stop-color="#c4c4c4"/><stop offset="0.9340" stop-color="#c2c2c2"/><stop offset="0.9560" stop-color="#c0c0c0"/><stop offset="0.9780" stop-color="#bebebe"/><stop offset="1.0000" stop-color="#bcbcbc"/></radialGradient><radialGradient id="cbr2" gradientUnits="userSpaceOnUse" cx="609.0" cy="469.0" r="49.85"><stop offset="0.4754" stop-color="#b2b2b2"/><stop offset="0.4973" stop-color="#b5b5b5"/><stop offset="0.5191" stop-color="#b7b7b7"/><stop offset="0.5410" stop-color="#bababa"/><stop offset="0.5629" stop-color="#bcbcbc"/><stop offset="0.5847" stop-color="#bebebe"/><stop offset="0.6066" stop-color="#bfbfbf"/><stop offset="0.6284" stop-color="#c1c1c1"/><stop offset="0.6503" stop-color="#c3c3c3"/><stop offset="0.6721" stop-color="#c5c5c5"/><stop offset="0.6940" stop-color="#c8c8c8"/><stop offset="0.7159" stop-color="#cdcdcd"/><stop offset="0.7377" stop-color="#d6d6d6"/><stop offset="0.7596" stop-color="#dddddd"/><stop offset="0.7814" stop-color="#d3d3d3"/><stop offset="0.8033" stop-color="#cecece"/><stop offset="0.8251" stop-color="#cacaca"/><stop offset="0.8470" stop-color="#c7c7c7"/><stop offset="0.8689" stop-color="#c5c5c5"/><stop offset="0.8907" stop-color="#c3c3c3"/><stop offset="0.9126" stop-color="#c1c1c1"/><stop offset="0.9344" stop-color="#bfbfbf"/><stop offset="0.9563" stop-color="#bdbdbd"/><stop offset="0.9781" stop-color="#bcbcbc"/><stop offset="1.0000" stop-color="#bababa"/></radialGradient><radialGradient id="cbr3" gradientUnits="userSpaceOnUse" cx="609.0" cy="469.0" r="49.87"><stop offset="0.4792" stop-color="#b5b5b5"/><stop offset="0.5009" stop-color="#b8b8b8"/><stop offset="0.5226" stop-color="#bababa"/><stop offset="0.5443" stop-color="#bcbcbc"/><stop offset="0.5660" stop-color="#bebebe"/><stop offset="0.5877" stop-color="#c0c0c0"/><stop offset="0.6094" stop-color="#c1c1c1"/><stop offset="0.6311" stop-color="#c2c2c2"/><stop offset="0.6528" stop-color="#c5c5c5"/><stop offset="0.6745" stop-color="#c7c7c7"/><stop offset="0.6962" stop-color="#cbcbcb"/><stop offset="0.7179" stop-color="#cfcfcf"/><stop offset="0.7396" stop-color="#d5d5d5"/><stop offset="0.7613" stop-color="#dadada"/><stop offset="0.7830" stop-color="#d1d1d1"/><stop offset="0.8047" stop-color="#cccccc"/><stop offset="0.8264" stop-color="#c8c8c8"/><stop offset="0.8481" stop-color="#c5c5c5"/><stop offset="0.8698" stop-color="#c2c2c2"/><stop offset="0.8915" stop-color="#c0c0c0"/><stop offset="0.9132" stop-color="#bebebe"/><stop offset="0.9349" stop-color="#bcbcbc"/><stop offset="0.9566" stop-color="#bbbbbb"/><stop offset="0.9783" stop-color="#bababa"/><stop offset="1.0000" stop-color="#b9b9b9"/></radialGradient><radialGradient id="cbr4" gradientUnits="userSpaceOnUse" cx="609.0" cy="469.0" r="49.89"><stop offset="0.4831" stop-color="#b8b8b8"/><stop offset="0.5046" stop-color="#bababa"/><stop offset="0.5261" stop-color="#bcbcbc"/><stop offset="0.5477" stop-color="#bebebe"/><stop offset="0.5692" stop-color="#c0c0c0"/><stop offset="0.5908" stop-color="#c2c2c2"/><stop offset="0.6123" stop-color="#c3c3c3"/><stop offset="0.6338" stop-color="#c4c4c4"/><stop offset="0.6554" stop-color="#c6c6c6"/><stop offset="0.6769" stop-color="#c9c9c9"/><stop offset="0.6985" stop-color="#cfcfcf"/><stop offset="0.7200" stop-color="#d0d0d0"/><stop offset="0.7415" stop-color="#d4d4d4"/><stop offset="0.7631" stop-color="#d7d7d7"/><stop offset="0.7846" stop-color="#cecece"/><stop offset="0.8061" stop-color="#c9c9c9"/><stop offset="0.8277" stop-color="#c5c5c5"/><stop offset="0.8492" stop-color="#c2c2c2"/><stop offset="0.8708" stop-color="#bfbfbf"/><stop offset="0.8923" stop-color="#bdbdbd"/><stop offset="0.9138" stop-color="#bbbbbb"/><stop offset="0.9354" stop-color="#b9b9b9"/><stop offset="0.9569" stop-color="#b8b8b8"/><stop offset="0.9785" stop-color="#b8b8b8"/><stop offset="1.0000" stop-color="#b8b8b8"/></radialGradient><radialGradient id="cbr5" gradientUnits="userSpaceOnUse" cx="609.0" cy="469.0" r="49.91"><stop offset="0.4869" stop-color="#bababa"/><stop offset="0.5083" stop-color="#bdbdbd"/><stop offset="0.5296" stop-color="#bfbfbf"/><stop offset="0.5510" stop-color="#c1c1c1"/><stop offset="0.5724" stop-color="#c2c2c2"/><stop offset="0.5938" stop-color="#c4c4c4"/><stop offset="0.6152" stop-color="#c5c5c5"/><stop offset="0.6365" stop-color="#c6c6c6"/><stop offset="0.6579" stop-color="#c8c8c8"/><stop offset="0.6793" stop-color="#cbcbcb"/><stop offset="0.7007" stop-color="#d2d2d2"/><stop offset="0.7221" stop-color="#d1d1d1"/><stop offset="0.7434" stop-color="#d2d2d2"/><stop offset="0.7648" stop-color="#d4d4d4"/><stop offset="0.7862" stop-color="#cccccc"/><stop offset="0.8076" stop-color="#c7c7c7"/><stop offset="0.8290" stop-color="#c3c3c3"/><stop offset="0.8503" stop-color="#bfbfbf"/><stop offset="0.8717" stop-color="#bdbdbd"/><stop offset="0.8931" stop-color="#bababa"/><stop offset="0.9145" stop-color="#b8b8b8"/><stop offset="0.9359" stop-color="#b6b6b6"/><stop offset="0.9572" stop-color="#b6b6b6"/><stop offset="0.9786" stop-color="#b6b6b6"/><stop offset="1.0000" stop-color="#b6b6b6"/></radialGradient><radialGradient id="cbr6" gradientUnits="userSpaceOnUse" cx="609.0" cy="469.0" r="49.93"><stop offset="0.4907" stop-color="#bdbdbd"/><stop offset="0.5119" stop-color="#c0c0c0"/><stop offset="0.5331" stop-color="#c1c1c1"/><stop offset="0.5544" stop-color="#c3c3c3"/><stop offset="0.5756" stop-color="#c4c4c4"/><stop offset="0.5968" stop-color="#c6c6c6"/><stop offset="0.6180" stop-color="#c7c7c7"/><stop offset="0.6392" stop-color="#c8c8c8"/><stop offset="0.6605" stop-color="#cacaca"/><stop offset="0.6817" stop-color="#cecece"/><stop offset="0.7029" stop-color="#d5d5d5"/><stop offset="0.7241" stop-color="#d2d2d2"/><stop offset="0.7453" stop-color="#d1d1d1"/><stop offset="0.7666" stop-color="#d0d0d0"/><stop offset="0.7878" stop-color="#c9c9c9"/><stop offset="0.8090" stop-color="#c5c5c5"/><stop offset="0.8302" stop-color="#c0c0c0"/><stop offset="0.8515" stop-color="#bdbdbd"/><stop offset="0.8727" stop-color="#bababa"/><stop offset="0.8939" stop-color="#b7b7b7"/><stop offset="0.9151" stop-color="#b4b4b4"/><stop offset="0.9363" stop-color="#b4b4b4"/><stop offset="0.9576" stop-color="#b3b3b3"/><stop offset="0.9788" stop-color="#b3b3b3"/><stop offset="1.0000" stop-color="#b5b5b5"/></radialGradient><radialGradient id="cbr7" gradientUnits="userSpaceOnUse" cx="609.0" cy="469.0" r="49.95"><stop offset="0.4945" stop-color="#c0c0c0"/><stop offset="0.5156" stop-color="#c2c2c2"/><stop offset="0.5366" stop-color="#c4c4c4"/><stop offset="0.5577" stop-color="#c5c5c5"/><stop offset="0.5787" stop-color="#c7c7c7"/><stop offset="0.5998" stop-color="#c8c8c8"/><stop offset="0.6209" stop-color="#c9c9c9"/><stop offset="0.6419" stop-color="#c9c9c9"/><stop offset="0.6630" stop-color="#cccccc"/><stop offset="0.6841" stop-color="#d0d0d0"/><stop offset="0.7051" stop-color="#d8d8d8"/><stop offset="0.7262" stop-color="#d3d3d3"/><stop offset="0.7472" stop-color="#d0d0d0"/><stop offset="0.7683" stop-color="#cdcdcd"/><stop offset="0.7894" stop-color="#c7c7c7"/><stop offset="0.8104" stop-color="#c2c2c2"/><stop offset="0.8315" stop-color="#bebebe"/><stop offset="0.8526" stop-color="#bababa"/><stop offset="0.8736" stop-color="#b7b7b7"/><stop offset="0.8947" stop-color="#b4b4b4"/><stop offset="0.9157" stop-color="#b1b1b1"/><stop offset="0.9368" stop-color="#b1b1b1"/><stop offset="0.9579" stop-color="#b0b0b0"/><stop offset="0.9789" stop-color="#b1b1b1"/><stop offset="1.0000" stop-color="#b4b4b4"/></radialGradient><radialGradient id="cbr8" gradientUnits="userSpaceOnUse" cx="609.0" cy="469.0" r="49.97"><stop offset="0.4983" stop-color="#c2c2c2"/><stop offset="0.5192" stop-color="#c5c5c5"/><stop offset="0.5401" stop-color="#c7c7c7"/><stop offset="0.5610" stop-color="#c8c8c8"/><stop offset="0.5819" stop-color="#c9c9c9"/><stop offset="0.6028" stop-color="#cacaca"/><stop offset="0.6237" stop-color="#cacaca"/><stop offset="0.6446" stop-color="#cbcbcb"/><stop offset="0.6655" stop-color="#cecece"/><stop offset="0.6864" stop-color="#d2d2d2"/><stop offset="0.7073" stop-color="#dbdbdb"/><stop offset="0.7282" stop-color="#d4d4d4"/><stop offset="0.7491" stop-color="#cfcfcf"/><stop offset="0.7701" stop-color="#cacaca"/><stop offset="0.7910" stop-color="#c4c4c4"/><stop offset="0.8119" stop-color="#c0c0c0"/><stop offset="0.8328" stop-color="#bbbbbb"/><stop offset="0.8537" stop-color="#b7b7b7"/><stop offset="0.8746" stop-color="#b4b4b4"/><stop offset="0.8955" stop-color="#b1b1b1"/><stop offset="0.9164" stop-color="#aeaeae"/><stop offset="0.9373" stop-color="#aeaeae"/><stop offset="0.9582" stop-color="#aeaeae"/><stop offset="0.9791" stop-color="#afafaf"/><stop offset="1.0000" stop-color="#b2b2b2"/></radialGradient><radialGradient id="cbr9" gradientUnits="userSpaceOnUse" cx="609.0" cy="469.0" r="49.99"><stop offset="0.5021" stop-color="#c5c5c5"/><stop offset="0.5228" stop-color="#c7c7c7"/><stop offset="0.5436" stop-color="#c9c9c9"/><stop offset="0.5643" stop-color="#cacaca"/><stop offset="0.5851" stop-color="#cbcbcb"/><stop offset="0.6058" stop-color="#cccccc"/><stop offset="0.6266" stop-color="#cccccc"/><stop offset="0.6473" stop-color="#cdcdcd"/><stop offset="0.6681" stop-color="#d0d0d0"/><stop offset="0.6888" stop-color="#d4d4d4"/><stop offset="0.7096" stop-color="#dedede"/><stop offset="0.7303" stop-color="#d5d5d5"/><stop offset="0.7511" stop-color="#cdcdcd"/><stop offset="0.7718" stop-color="#c7c7c7"/><stop offset="0.7925" stop-color="#c2c2c2"/><stop offset="0.8133" stop-color="#bdbdbd"/><stop offset="0.8340" stop-color="#b9b9b9"/><stop offset="0.8548" stop-color="#b5b5b5"/><stop offset="0.8755" stop-color="#b1b1b1"/><stop offset="0.8963" stop-color="#aeaeae"/><stop offset="0.9170" stop-color="#ababab"/><stop offset="0.9378" stop-color="#ababab"/><stop offset="0.9585" stop-color="#ababab"/><stop offset="0.9793" stop-color="#adadad"/><stop offset="1.0000" stop-color="#b1b1b1"/></radialGradient><radialGradient id="cbl0" gradientUnits="userSpaceOnUse" cx="65.5" cy="469.0" r="50.00"><stop offset="0.5037" stop-color="#c6c6c6"/><stop offset="0.5244" stop-color="#c8c8c8"/><stop offset="0.5451" stop-color="#cacaca"/><stop offset="0.5657" stop-color="#cbcbcb"/><stop offset="0.5864" stop-color="#cccccc"/><stop offset="0.6071" stop-color="#cccccc"/><stop offset="0.6278" stop-color="#cdcdcd"/><stop offset="0.6485" stop-color="#cecece"/><stop offset="0.6691" stop-color="#d1d1d1"/><stop offset="0.6898" stop-color="#d5d5d5"/><stop offset="0.7105" stop-color="#dfdfdf"/><stop offset="0.7312" stop-color="#d7d7d7"/><stop offset="0.7518" stop-color="#cdcdcd"/><stop offset="0.7725" stop-color="#c6c6c6"/><stop offset="0.7932" stop-color="#c0c0c0"/><stop offset="0.8139" stop-color="#bcbcbc"/><stop offset="0.8346" stop-color="#b8b8b8"/><stop offset="0.8552" stop-color="#b4b4b4"/><stop offset="0.8759" stop-color="#b1b1b1"/><stop offset="0.8966" stop-color="#adadad"/><stop offset="0.9173" stop-color="#aaaaaa"/><stop offset="0.9380" stop-color="#aaaaaa"/><stop offset="0.9586" stop-color="#aaaaaa"/><stop offset="0.9793" stop-color="#acacac"/><stop offset="1.0000" stop-color="#b0b0b0"/></radialGradient><radialGradient id="cbl1" gradientUnits="userSpaceOnUse" cx="65.5" cy="469.0" r="50.00"><stop offset="0.5031" stop-color="#c5c5c5"/><stop offset="0.5238" stop-color="#c8c8c8"/><stop offset="0.5445" stop-color="#c9c9c9"/><stop offset="0.5652" stop-color="#cacaca"/><stop offset="0.5859" stop-color="#cbcbcb"/><stop offset="0.6066" stop-color="#cccccc"/><stop offset="0.6273" stop-color="#cdcdcd"/><stop offset="0.6480" stop-color="#cecece"/><stop offset="0.6687" stop-color="#d1d1d1"/><stop offset="0.6894" stop-color="#d5d5d5"/><stop offset="0.7101" stop-color="#dedede"/><stop offset="0.7308" stop-color="#d8d8d8"/><stop offset="0.7515" stop-color="#cfcfcf"/><stop offset="0.7723" stop-color="#c6c6c6"/><stop offset="0.7930" stop-color="#c1c1c1"/><stop offset="0.8137" stop-color="#bdbdbd"/><stop offset="0.8344" stop-color="#b8b8b8"/><stop offset="0.8551" stop-color="#b5b5b5"/><stop offset="0.8758" stop-color="#b2b2b2"/><stop offset="0.8965" stop-color="#afafaf"/><stop offset="0.9172" stop-color="#ababab"/><stop offset="0.9379" stop-color="#ababab"/><stop offset="0.9586" stop-color="#ababab"/><stop offset="0.9793" stop-color="#acacac"/><stop offset="1.0000" stop-color="#afafaf"/></radialGradient><radialGradient id="cbl2" gradientUnits="userSpaceOnUse" cx="65.5" cy="469.0" r="50.00"><stop offset="0.5025" stop-color="#c4c4c4"/><stop offset="0.5232" stop-color="#c7c7c7"/><stop offset="0.5440" stop-color="#c9c9c9"/><stop offset="0.5647" stop-color="#cacaca"/><stop offset="0.5854" stop-color="#cbcbcb"/><stop offset="0.6061" stop-color="#cccccc"/><stop offset="0.6269" stop-color="#cdcdcd"/><stop offset="0.6476" stop-color="#cecece"/><stop offset="0.6683" stop-color="#d1d1d1"/><stop offset="0.6891" stop-color="#d5d5d5"/><stop offset="0.7098" stop-color="#dedede"/><stop offset="0.7305" stop-color="#dadada"/><stop offset="0.7512" stop-color="#d0d0d0"/><stop offset="0.7720" stop-color="#c7c7c7"/><stop offset="0.7927" stop-color="#c1c1c1"/><stop offset="0.8134" stop-color="#bdbdbd"/><stop offset="0.8342" stop-color="#b9b9b9"/><stop offset="0.8549" stop-color="#b6b6b6"/><stop offset="0.8756" stop-color="#b3b3b3"/><stop offset="0.8964" stop-color="#b0b0b0"/><stop offset="0.9171" stop-color="#adadad"/><stop offset="0.9378" stop-color="#acacac"/><stop offset="0.9585" stop-color="#acacac"/><stop offset="0.9793" stop-color="#acacac"/><stop offset="1.0000" stop-color="#afafaf"/></radialGradient><radialGradient id="cbl3" gradientUnits="userSpaceOnUse" cx="65.5" cy="469.0" r="50.00"><stop offset="0.5019" stop-color="#c3c3c3"/><stop offset="0.5227" stop-color="#c6c6c6"/><stop offset="0.5434" stop-color="#c8c8c8"/><stop offset="0.5642" stop-color="#c9c9c9"/><stop offset="0.5849" stop-color="#cbcbcb"/><stop offset="0.6057" stop-color="#cccccc"/><stop offset="0.6264" stop-color="#cdcdcd"/><stop offset="0.6472" stop-color="#cecece"/><stop offset="0.6679" stop-color="#d1d1d1"/><stop offset="0.6887" stop-color="#d5d5d5"/><stop offset="0.7094" stop-color="#dddddd"/><stop offset="0.7302" stop-color="#dbdbdb"/><stop offset="0.7510" stop-color="#d1d1d1"/><stop offset="0.7717" stop-color="#c7c7c7"/><stop offset="0.7925" stop-color="#c1c1c1"/><stop offset="0.8132" stop-color="#bdbdbd"/><stop offset="0.8340" stop-color="#bababa"/><stop offset="0.8547" stop-color="#b6b6b6"/><stop offset="0.8755" stop-color="#b4b4b4"/><stop offset="0.8962" stop-color="#b1b1b1"/><stop offset="0.9170" stop-color="#aeaeae"/><stop offset="0.9377" stop-color="#adadad"/><stop offset="0.9585" stop-color="#acacac"/><stop offset="0.9792" stop-color="#adadad"/><stop offset="1.0000" stop-color="#afafaf"/></radialGradient><radialGradient id="cbl4" gradientUnits="userSpaceOnUse" cx="65.5" cy="469.0" r="50.00"><stop offset="0.5013" stop-color="#c2c2c2"/><stop offset="0.5221" stop-color="#c5c5c5"/><stop offset="0.5429" stop-color="#c8c8c8"/><stop offset="0.5636" stop-color="#c9c9c9"/><stop offset="0.5844" stop-color="#cacaca"/><stop offset="0.6052" stop-color="#cccccc"/><stop offset="0.6260" stop-color="#cdcdcd"/><stop offset="0.6468" stop-color="#cecece"/><stop offset="0.6675" stop-color="#d1d1d1"/><stop offset="0.6883" stop-color="#d5d5d5"/><stop offset="0.7091" stop-color="#dddddd"/><stop offset="0.7299" stop-color="#dddddd"/><stop offset="0.7506" stop-color="#d2d2d2"/><stop offset="0.7714" stop-color="#c8c8c8"/><stop offset="0.7922" stop-color="#c1c1c1"/><stop offset="0.8130" stop-color="#bebebe"/><stop offset="0.8338" stop-color="#bababa"/><stop offset="0.8545" stop-color="#b7b7b7"/><stop offset="0.8753" stop-color="#b5b5b5"/><stop offset="0.8961" stop-color="#b2b2b2"/><stop offset="0.9169" stop-color="#afafaf"/><stop offset="0.9377" stop-color="#aeaeae"/><stop offset="0.9584" stop-color="#adadad"/><stop offset="0.9792" stop-color="#adadad"/><stop offset="1.0000" stop-color="#aeaeae"/></radialGradient><radialGradient id="cbl5" gradientUnits="userSpaceOnUse" cx="65.5" cy="469.0" r="50.00"><stop offset="0.5007" stop-color="#c2c2c2"/><stop offset="0.5215" stop-color="#c5c5c5"/><stop offset="0.5423" stop-color="#c7c7c7"/><stop offset="0.5631" stop-color="#c9c9c9"/><stop offset="0.5839" stop-color="#cacaca"/><stop offset="0.6047" stop-color="#cbcbcb"/><stop offset="0.6255" stop-color="#cdcdcd"/><stop offset="0.6463" stop-color="#cecece"/><stop offset="0.6671" stop-color="#d1d1d1"/><stop offset="0.6879" stop-color="#d5d5d5"/><stop offset="0.7087" stop-color="#dcdcdc"/><stop offset="0.7295" stop-color="#dedede"/><stop offset="0.7503" stop-color="#d4d4d4"/><stop offset="0.7712" stop-color="#c8c8c8"/><stop offset="0.7920" stop-color="#c1c1c1"/><stop offset="0.8128" stop-color="#bebebe"/><stop offset="0.8336" stop-color="#bbbbbb"/><stop offset="0.8544" stop-color="#b8b8b8"/><stop offset="0.8752" stop-color="#b6b6b6"/><stop offset="0.8960" stop-color="#b4b4b4"/><stop offset="0.9168" stop-color="#b1b1b1"/><stop offset="0.9376" stop-color="#afafaf"/><stop offset="0.9584" stop-color="#aeaeae"/><stop offset="0.9792" stop-color="#adadad"/><stop offset="1.0000" stop-color="#aeaeae"/></radialGradient><radialGradient id="cbl6" gradientUnits="userSpaceOnUse" cx="65.5" cy="469.0" r="50.00"><stop offset="0.5001" stop-color="#c1c1c1"/><stop offset="0.5209" stop-color="#c4c4c4"/><stop offset="0.5418" stop-color="#c6c6c6"/><stop offset="0.5626" stop-color="#c8c8c8"/><stop offset="0.5834" stop-color="#cacaca"/><stop offset="0.6042" stop-color="#cbcbcb"/><stop offset="0.6251" stop-color="#cccccc"/><stop offset="0.6459" stop-color="#cecece"/><stop offset="0.6667" stop-color="#d1d1d1"/><stop offset="0.6876" stop-color="#d5d5d5"/><stop offset="0.7084" stop-color="#dcdcdc"/><stop offset="0.7292" stop-color="#e0e0e0"/><stop offset="0.7500" stop-color="#d5d5d5"/><stop offset="0.7709" stop-color="#c9c9c9"/><stop offset="0.7917" stop-color="#c1c1c1"/><stop offset="0.8125" stop-color="#bebebe"/><stop offset="0.8334" stop-color="#bcbcbc"/><stop offset="0.8542" stop-color="#b9b9b9"/><stop offset="0.8750" stop-color="#b7b7b7"/><stop offset="0.8959" stop-color="#b5b5b5"/><stop offset="0.9167" stop-color="#b2b2b2"/><stop offset="0.9375" stop-color="#b0b0b0"/><stop offset="0.9583" stop-color="#aeaeae"/><stop offset="0.9792" stop-color="#adadad"/><stop offset="1.0000" stop-color="#adadad"/></radialGradient><radialGradient id="cbl7" gradientUnits="userSpaceOnUse" cx="65.5" cy="469.0" r="50.00"><stop offset="0.4995" stop-color="#c0c0c0"/><stop offset="0.5204" stop-color="#c3c3c3"/><stop offset="0.5412" stop-color="#c6c6c6"/><stop offset="0.5621" stop-color="#c8c8c8"/><stop offset="0.5829" stop-color="#c9c9c9"/><stop offset="0.6038" stop-color="#cbcbcb"/><stop offset="0.6246" stop-color="#cccccc"/><stop offset="0.6455" stop-color="#cecece"/><stop offset="0.6663" stop-color="#d0d0d0"/><stop offset="0.6872" stop-color="#d5d5d5"/><stop offset="0.7080" stop-color="#dbdbdb"/><stop offset="0.7289" stop-color="#e1e1e1"/><stop offset="0.7497" stop-color="#d6d6d6"/><stop offset="0.7706" stop-color="#c9c9c9"/><stop offset="0.7915" stop-color="#c1c1c1"/><stop offset="0.8123" stop-color="#bfbfbf"/><stop offset="0.8332" stop-color="#bcbcbc"/><stop offset="0.8540" stop-color="#bababa"/><stop offset="0.8749" stop-color="#b8b8b8"/><stop offset="0.8957" stop-color="#b6b6b6"/><stop offset="0.9166" stop-color="#b3b3b3"/><stop offset="0.9374" stop-color="#b1b1b1"/><stop offset="0.9583" stop-color="#afafaf"/><stop offset="0.9791" stop-color="#aeaeae"/><stop offset="1.0000" stop-color="#adadad"/></radialGradient><radialGradient id="cbl8" gradientUnits="userSpaceOnUse" cx="65.5" cy="469.0" r="50.00"><stop offset="0.4989" stop-color="#bfbfbf"/><stop offset="0.5198" stop-color="#c2c2c2"/><stop offset="0.5407" stop-color="#c5c5c5"/><stop offset="0.5615" stop-color="#c7c7c7"/><stop offset="0.5824" stop-color="#c9c9c9"/><stop offset="0.6033" stop-color="#cbcbcb"/><stop offset="0.6242" stop-color="#cccccc"/><stop offset="0.6451" stop-color="#cecece"/><stop offset="0.6659" stop-color="#d0d0d0"/><stop offset="0.6868" stop-color="#d5d5d5"/><stop offset="0.7077" stop-color="#dbdbdb"/><stop offset="0.7286" stop-color="#e3e3e3"/><stop offset="0.7494" stop-color="#d8d8d8"/><stop offset="0.7703" stop-color="#cacaca"/><stop offset="0.7912" stop-color="#c1c1c1"/><stop offset="0.8121" stop-color="#bfbfbf"/><stop offset="0.8330" stop-color="#bdbdbd"/><stop offset="0.8538" stop-color="#bbbbbb"/><stop offset="0.8747" stop-color="#b9b9b9"/><stop offset="0.8956" stop-color="#b7b7b7"/><stop offset="0.9165" stop-color="#b5b5b5"/><stop offset="0.9374" stop-color="#b2b2b2"/><stop offset="0.9582" stop-color="#b0b0b0"/><stop offset="0.9791" stop-color="#aeaeae"/><stop offset="1.0000" stop-color="#adadad"/></radialGradient><radialGradient id="cbl9" gradientUnits="userSpaceOnUse" cx="65.5" cy="469.0" r="50.00"><stop offset="0.4983" stop-color="#bebebe"/><stop offset="0.5192" stop-color="#c2c2c2"/><stop offset="0.5401" stop-color="#c4c4c4"/><stop offset="0.5610" stop-color="#c7c7c7"/><stop offset="0.5819" stop-color="#c9c9c9"/><stop offset="0.6028" stop-color="#cbcbcb"/><stop offset="0.6237" stop-color="#cccccc"/><stop offset="0.6446" stop-color="#cecece"/><stop offset="0.6655" stop-color="#d0d0d0"/><stop offset="0.6864" stop-color="#d5d5d5"/><stop offset="0.7073" stop-color="#dadada"/><stop offset="0.7282" stop-color="#e4e4e4"/><stop offset="0.7491" stop-color="#d9d9d9"/><stop offset="0.7701" stop-color="#cacaca"/><stop offset="0.7910" stop-color="#c1c1c1"/><stop offset="0.8119" stop-color="#bfbfbf"/><stop offset="0.8328" stop-color="#bebebe"/><stop offset="0.8537" stop-color="#bcbcbc"/><stop offset="0.8746" stop-color="#bababa"/><stop offset="0.8955" stop-color="#b9b9b9"/><stop offset="0.9164" stop-color="#b6b6b6"/><stop offset="0.9373" stop-color="#b3b3b3"/><stop offset="0.9582" stop-color="#b1b1b1"/><stop offset="0.9791" stop-color="#aeaeae"/><stop offset="1.0000" stop-color="#acacac"/></radialGradient></defs>
<rect width="675" height="535" fill="#ffffff"/>
<g filter="url(#b05)" font-family="Liberation Sans, sans-serif">
<rect x="155" y="40.5" width="27" height="21.0" fill="#c7c7c7"/><rect x="155" y="40.5" width="27" height="1.5" fill="#a4a4a4"/><rect x="155" y="60.3" width="27" height="1.2" fill="#b8b8b8"/><text transform="translate(163.680,59.450) scale(1.184,1)" font-size="23.55" fill="#aaaaaa" stroke="#aaaaaa" stroke-width="1" stroke-linejoin="round">1</text><text transform="translate(164.330,60.100) scale(1.184,1)" font-size="23.55" fill="#d4d4d4" stroke="#d4d4d4" stroke-width="0.14" stroke-linejoin="round">1</text>
<rect x="277" y="123.3" width="26.30000000000001" height="19.299999999999997" fill="#c7c7c7"/><rect x="277" y="123.3" width="26.30000000000001" height="1.5" fill="#a4a4a4"/><rect x="277" y="141.4" width="26.30000000000001" height="1.2" fill="#b8b8b8"/><text transform="translate(282.947,140.850) scale(1.239,1)" font-size="20.91" fill="#aaaaaa" stroke="#aaaaaa" stroke-width="1" stroke-linejoin="round">2</text><text transform="translate(283.597,141.500) scale(1.239,1)" font-size="20.91" fill="#d4d4d4" stroke="#d4d4d4" stroke-width="0.14" stroke-linejoin="round">2</text>
<rect x="154.5" y="231" width="27.5" height="19" fill="#c7c7c7"/><rect x="154.5" y="231" width="27.5" height="1.5" fill="#a4a4a4"/><rect x="154.5" y="248.8" width="27.5" height="1.2" fill="#b8b8b8"/><text transform="translate(160.774,248.633) scale(1.274,1)" font-size="22.18" fill="#aaaaaa" stroke="#aaaaaa" stroke-width="1" stroke-linejoin="round">3</text><text transform="translate(161.424,249.283) scale(1.274,1)" font-size="22.18" fill="#d4d4d4" stroke="#d4d4d4" stroke-width="0.14" stroke-linejoin="round">3</text>
<rect x="277.5" y="336" width="25.80000000000001" height="19" fill="#c7c7c7"/><rect x="277.5" y="336" width="25.80000000000001" height="1.5" fill="#a4a4a4"/><rect x="277.5" y="353.8" width="25.80000000000001" height="1.2" fill="#b8b8b8"/><text transform="translate(281.431,353.550) scale(1.1255,1)" font-size="23.98" fill="#aaaaaa" stroke="#aaaaaa" stroke-width="1" stroke-linejoin="round">4</text><text transform="translate(282.081,354.200) scale(1.1255,1)" font-size="23.98" fill="#d4d4d4" stroke="#d4d4d4" stroke-width="0.14" stroke-linejoin="round">4</text>
<rect x="379" y="423" width="26" height="19.80000000000001" fill="#c7c7c7"/><rect x="379" y="423" width="26" height="1.5" fill="#a4a4a4"/><rect x="379" y="441.6" width="26" height="1.2" fill="#b8b8b8"/><text transform="translate(384.837,440.040) scale(1.177,1)" font-size="21.5" fill="#aaaaaa" stroke="#aaaaaa" stroke-width="1" stroke-linejoin="round">5</text><text transform="translate(385.487,440.690) scale(1.177,1)" font-size="21.5" fill="#d4d4d4" stroke="#d4d4d4" stroke-width="0.14" stroke-linejoin="round">5</text>
<rect x="455.2" y="423" width="28.30000000000001" height="19.80000000000001" fill="#c7c7c7"/><rect x="455.2" y="423" width="28.30000000000001" height="1.5" fill="#a4a4a4"/><rect x="455.2" y="441.6" width="28.30000000000001" height="1.2" fill="#b8b8b8"/><text transform="translate(461.751,440.043) scale(1.208,1)" font-size="21.18" fill="#aaaaaa" stroke="#aaaaaa" stroke-width="1" stroke-linejoin="round">6</text><text transform="translate(462.401,440.693) scale(1.208,1)" font-size="21.18" fill="#d4d4d4" stroke="#d4d4d4" stroke-width="0.14" stroke-linejoin="round">6</text>
<rect x="562.5" y="423" width="27.200000000000045" height="19.80000000000001" fill="#c7c7c7"/><rect x="562.5" y="423" width="27.200000000000045" height="1.5" fill="#a4a4a4"/><rect x="562.5" y="441.6" width="27.200000000000045" height="1.2" fill="#b8b8b8"/><text transform="translate(567.539,440.050) scale(1.370,1)" font-size="21.5" fill="#aaaaaa" stroke="#aaaaaa" stroke-width="0.95" stroke-linejoin="round">7</text><text transform="translate(568.189,440.700) scale(1.370,1)" font-size="21.5" fill="#d4d4d4" stroke="#d4d4d4" stroke-width="0.13" stroke-linejoin="round">7</text>
<path d="M40,178.2 H83 Q87.6,178.2 87.6,183 V212.5 H40 Z" fill="#cdcdcd"/>
<text transform="translate(42.140,208.100) scale(0.9475,1)" font-size="35.88" fill="#a6a6a6" stroke="#a6a6a6" stroke-width="1.6" stroke-linejoin="round">G</text><text transform="translate(42.790,208.750) scale(0.9475,1)" font-size="35.88" fill="#dcdcdc" stroke="#dcdcdc" stroke-width="0.15" stroke-linejoin="round">G</text>
<text transform="translate(68.736,208.629) scale(1.279,1)" font-size="22.61" fill="#a6a6a6" stroke="#a6a6a6" stroke-width="1.3" stroke-linejoin="round">d</text><text transform="translate(69.386,209.279) scale(1.279,1)" font-size="22.61" fill="#dcdcdc" stroke="#dcdcdc" stroke-width="0.13" stroke-linejoin="round">d</text>
<path d="M144.35000000000002,71.8 H150.85000000000002 L149.8,85.5 H145.40000000000003 Z" fill="#b0b0b0"/><path d="M148.20000000000002,73.3 L148.10000000000002,85.5" stroke="#cccccc" stroke-width="1.3" fill="none"/><path d="M139.9,37 H155.3 V69.5 C155.3,72.35 153.35000000000002,73.3 150.35000000000002,73.3 H144.85000000000002 C141.85000000000002,73.3 139.9,72.35 139.9,69.5 Z" fill="url(#gv)"/>
<path d="M144.0,177.7 H151.0 L149.6,161.5 H145.4 Z" fill="#b0b0b0"/><path d="M148.1,176.2 L148.0,161.5" stroke="#cccccc" stroke-width="1.3" fill="none"/><path d="M139.7,213 H155.3 V180 C155.3,177.15 153.5,176.2 150.5,176.2 H144.5 C141.5,176.2 139.7,177.15 139.7,180 Z" fill="url(#gv)"/>
<path d="M95.2,122.10000000000001 L109.5,122.65 V127.15 L95.2,127.7 Z" fill="#b0b0b0"/><path d="M96.7,124.30000000000001 L109.5,124.4" stroke="#cccccc" stroke-width="1.3" fill="none"/><path d="M39,117.2 H90.5 C95.15,117.2 96.7,119.60000000000001 96.7,122.60000000000001 V127.2 C96.7,130.2 95.15,132.6 90.5,132.6 H39 Z" fill="url(#gh)"/>
<path d="M199.9,122.10000000000001 L187,122.65 V127.15 L199.9,127.7 Z" fill="#b0b0b0"/><path d="M198.4,124.30000000000001 L187,124.4" stroke="#cccccc" stroke-width="1.3" fill="none"/><path d="M259,117.2 H204 C199.8,117.2 198.4,119.60000000000001 198.4,122.60000000000001 V127.2 C198.4,130.2 199.8,132.6 204,132.6 H259 Z" fill="url(#gh)"/>
<path d="M144.4,271.3 H150.6 L149.8,286 H145.2 Z" fill="#b0b0b0"/><path d="M148.1,272.8 L148.0,286" stroke="#cccccc" stroke-width="1.3" fill="none"/><path d="M139.7,229 H155.3 V265 C155.3,270.85 153.1,272.8 150.1,272.8 H144.9 C141.9,272.8 139.7,270.85 139.7,265 Z" fill="url(#gv)"/>
<path d="M144.4,456.0 H150.4 L149.4,441 H145.4 Z" fill="#b0b0b0"/><path d="M148.0,454.5 L147.9,441" stroke="#cccccc" stroke-width="1.3" fill="none"/><path d="M139.5,496 H155.3 V458.5 C155.3,455.5 152.9,454.5 149.9,454.5 H144.9 C141.9,454.5 139.5,455.5 139.5,458.5 Z" fill="url(#gv)"/>
<path d="M68.8,359.9 L84,360.45 V364.95 L68.8,365.5 Z" fill="#b0b0b0"/><path d="M70.3,362.09999999999997 L84,362.2" stroke="#cccccc" stroke-width="1.3" fill="none"/><path d="M39,355.2 H64.8 C68.925,355.2 70.3,357.4 70.3,360.4 V365.0 C70.3,368.0 68.925,370.2 64.8,370.2 H39 Z" fill="url(#gh)"/>
<path d="M224.0,360.5 L200,361.05 V365.55 L224.0,366.1 Z" fill="#b0b0b0"/><path d="M222.5,362.7 L200,362.8" stroke="#cccccc" stroke-width="1.3" fill="none"/><path d="M259,356 H228 C223.875,356 222.5,358.0 222.5,361.0 V365.6 C222.5,368.6 223.875,370.6 228,370.6 H259 Z" fill="url(#gh)"/>
<path d="M304.0,111.5 L317,111.8 V117.8 L304.0,118.1 Z" fill="#b0b0b0"/><path d="M305.5,114.2 L317,114.3" stroke="#cccccc" stroke-width="1.3" fill="none"/><path d="M275,107.3 H300.5 C304.25,107.3 305.5,109.0 305.5,112.0 V117.6 C305.5,120.6 304.25,122.3 300.5,122.3 H275 Z" fill="url(#gh)"/>
<path d="M304.0,324.2 L317,324.5 V330.5 L304.0,330.8 Z" fill="#b0b0b0"/><path d="M305.5,326.9 L317,327.0" stroke="#cccccc" stroke-width="1.3" fill="none"/><path d="M275,320 H300.5 C304.25,320 305.5,321.7 305.5,324.7 V330.3 C305.5,333.3 304.25,335 300.5,335 H275 Z" fill="url(#gh)"/>
<path d="M327.0,449.5 H334.6 L333.2,462.5 H328.40000000000003 Z" fill="#b0b0b0"/><path d="M331.40000000000003,451 L331.3,462.5" stroke="#cccccc" stroke-width="1.3" fill="none"/><path d="M323.3,420 H338.3 V445 C338.3,449.5 337.1,451 334.1,451 H327.5 C324.5,451 323.3,449.5 323.3,445 Z" fill="url(#gv)"/>
<path d="M367.05,449.5 H374.65000000000003 L373.25,462.5 H368.45000000000005 Z" fill="#b0b0b0"/><path d="M371.45000000000005,451 L371.35,462.5" stroke="#cccccc" stroke-width="1.3" fill="none"/><path d="M363.2,420 H378.5 V445 C378.5,449.5 377.15000000000003,451 374.15000000000003,451 H367.55 C364.55,451 363.2,449.5 363.2,445 Z" fill="url(#gv)"/>
<path d="M434.0,449.5 H441.6 L440.2,462.5 H435.40000000000003 Z" fill="#b0b0b0"/><path d="M438.40000000000003,451 L438.3,462.5" stroke="#cccccc" stroke-width="1.3" fill="none"/><path d="M430,420 H445.6 V445 C445.6,449.5 444.1,451 441.1,451 H434.5 C431.5,451 430,449.5 430,445 Z" fill="url(#gv)"/>
<path d="M487.15,449.5 H494.75 L493.34999999999997,462.5 H488.55 Z" fill="#b0b0b0"/><path d="M491.55,451 L491.45,462.5" stroke="#cccccc" stroke-width="1.3" fill="none"/><path d="M483.2,420 H498.7 V445 C498.7,449.5 497.25,451 494.25,451 H487.65 C484.65,451 483.2,449.5 483.2,445 Z" fill="url(#gv)"/>
<path d="M550.8000000000001,446.0 H559.6 L558.1999999999999,463 H553.4 Z" fill="#b0b0b0"/><path d="M555.8000000000001,447.5 L556.3,463" stroke="#cccccc" stroke-width="1.3" fill="none"/><path d="M547.6,420 H562.8 V442.5 C562.8,446.25 562.1,447.5 559.1,447.5 H551.3000000000001 C548.3000000000001,447.5 547.6,446.25 547.6,442.5 Z" fill="url(#gv)"/>
<path d="M348.7,470 H353.7 L354.9,481 Q359.3,483 359.3,488 V496 H343.09999999999997 V488 Q343.09999999999997,483 347.5,481 Z" fill="url(#gv)"/>
<path d="M461.7,470 H466.7 L467.9,481 Q472.3,483 472.3,488 V496 H456.09999999999997 V488 Q456.09999999999997,483 460.5,481 Z" fill="url(#gv)"/>
<path d="M576.2,470 H581.2 L582.4000000000001,481 Q586.95,483 586.95,488 V496 H570.45 V488 Q570.45,483 575.0,481 Z" fill="url(#gv)"/>
<path d="M384,80 L370.5,90.5" stroke="#b6b6b6" stroke-width="5" fill="none"/>
<path d="M375.8,39 H391.7 V80 Q391.7,86.5 385.5,86 Q380,85.5 375.8,78 Z" fill="url(#gv)"/>
<rect x="384" y="40" width="7.4" height="6.2" fill="#dadada" opacity="0.7"/><path d="M376,46.6 H391.6" stroke="#aeaeae" stroke-width="0.9"/>
<path d="M529.3,97 H538.5 L536.3,110.5 H530.3 Z" fill="#adadad"/><path d="M535.5,98 L534.5,110" stroke="#c6c6c6" stroke-width="1.4"/>
<path d="M525,39 H541.2 V94 Q541.2,97.5 538,99 H529.8 Q525,97.5 525,94 Z" fill="url(#gv)"/>
<path d="M384,362 L370.5,351.5" stroke="#b6b6b6" stroke-width="5" fill="none"/>
<path d="M375.8,405 H391.7 V362 Q391.7,355.5 385.5,356 Q380,356.5 375.8,364 Z" fill="url(#gv)"/>
<path d="M529.3,345 H538.5 L536.3,331.5 H530.3 Z" fill="#adadad"/><path d="M535.5,344 L534.5,332" stroke="#c6c6c6" stroke-width="1.4"/>
<path d="M525,405 H541.2 V348 Q541.2,344.5 538,343 H529.8 Q525,344.5 525,348 Z" fill="url(#gv)"/>
<line x1="395.2" y1="155.4" x2="407.3" y2="141.4" stroke="#b6b6b6" stroke-width="5.2"/><line x1="395.2" y1="155.4" x2="407.3" y2="141.4" stroke="#cecece" stroke-width="1.8"/><path d="M369.3,222 V162.0 Q369.3,154.8 376.5,154.8 H377.0 Q384.2,154.8 384.2,162.0 V222 Z" fill="url(#gv)"/><line x1="376.75" y1="169.3" x2="395.2" y2="155.4" stroke="#b4b4b4" stroke-width="14.4" stroke-linecap="round"/><line x1="376.75" y1="169.3" x2="395.2" y2="155.4" stroke="#c6c6c6" stroke-width="9" stroke-linecap="round"/><line x1="377.95" y1="170.5" x2="396.4" y2="156.6" stroke="#dadada" stroke-width="2.2" stroke-linecap="round" filter="url(#b05)"/><ellipse cx="395.2" cy="155.4" rx="7.6" ry="7.6" fill="url(#gball)"/>
<line x1="471.6" y1="154.4" x2="458.3" y2="142.2" stroke="#b6b6b6" stroke-width="5.2"/><line x1="471.6" y1="154.4" x2="458.3" y2="142.2" stroke="#cecece" stroke-width="1.8"/><path d="M476.2,222 V160.79999999999998 Q476.2,153.6 483.4,153.6 H483.8 Q491,153.6 491,160.79999999999998 V222 Z" fill="url(#gv)"/><line x1="483.6" y1="168.1" x2="471.6" y2="154.4" stroke="#b4b4b4" stroke-width="14.4" stroke-linecap="round"/><line x1="483.6" y1="168.1" x2="471.6" y2="154.4" stroke="#c6c6c6" stroke-width="9" stroke-linecap="round"/><line x1="485.20000000000005" y1="166.9" x2="473.20000000000005" y2="153.20000000000002" stroke="#dadada" stroke-width="2.2" stroke-linecap="round" filter="url(#b05)"/><ellipse cx="471.6" cy="154.4" rx="7.6" ry="7.6" fill="url(#gball2)"/>
<line x1="395.2" y1="286.6" x2="407.3" y2="300.6" stroke="#b6b6b6" stroke-width="5.2"/><line x1="395.2" y1="286.6" x2="407.3" y2="300.6" stroke="#cecece" stroke-width="1.8"/><path d="M369.3,220 V280.0 Q369.3,287.2 376.5,287.2 H377.0 Q384.2,287.2 384.2,280.0 V220 Z" fill="url(#gv)"/><line x1="376.75" y1="272.7" x2="395.2" y2="286.6" stroke="#b4b4b4" stroke-width="14.4" stroke-linecap="round"/><line x1="376.75" y1="272.7" x2="395.2" y2="286.6" stroke="#c6c6c6" stroke-width="9" stroke-linecap="round"/><line x1="377.95" y1="271.5" x2="396.4" y2="285.40000000000003" stroke="#dadada" stroke-width="2.2" stroke-linecap="round" filter="url(#b05)"/><ellipse cx="395.2" cy="286.6" rx="7.6" ry="7.6" fill="url(#gball)"/>
<line x1="471.6" y1="287.6" x2="458.3" y2="299.8" stroke="#b6b6b6" stroke-width="5.2"/><line x1="471.6" y1="287.6" x2="458.3" y2="299.8" stroke="#cecece" stroke-width="1.8"/><path d="M476.2,220 V281.2 Q476.2,288.4 483.4,288.4 H483.8 Q491,288.4 491,281.2 V220 Z" fill="url(#gv)"/><line x1="483.6" y1="273.9" x2="471.6" y2="287.6" stroke="#b4b4b4" stroke-width="14.4" stroke-linecap="round"/><line x1="483.6" y1="273.9" x2="471.6" y2="287.6" stroke="#c6c6c6" stroke-width="9" stroke-linecap="round"/><line x1="485.20000000000005" y1="275.09999999999997" x2="473.20000000000005" y2="288.8" stroke="#dadada" stroke-width="2.2" stroke-linecap="round" filter="url(#b05)"/><ellipse cx="471.6" cy="287.6" rx="7.6" ry="7.6" fill="url(#gball2)"/>
<rect x="257.6" y="39" width="19.19999999999999" height="457" fill="url(#gv)" />
<path d="M39,211.7 H257.6 L267.6,221 L257.6,230.6 H39 Z" fill="url(#gh)"/>
<path d="M634,211.7 H276.8 L268.2,221 L276.8,230.6 H634 Z" fill="url(#gh)"/>
<path d="M634,404.3 H276.8 L270,413.5 L276.8,422.6 H634 Z" fill="url(#gh)"/>
<path d="M323.3,424 V422.8 C323.3,420.0 326.3,418.8 330.8,418.8 C335.3,418.8 338.3,420.0 338.3,422.8 V424 Z" fill="url(#gv)"/>
<path d="M363.2,424 V422.8 C363.2,420.0 366.2,418.8 370.85,418.8 C375.5,418.8 378.5,420.0 378.5,422.8 V424 Z" fill="url(#gv)"/>
<path d="M430,424 V422.8 C430,420.0 433,418.8 437.8,418.8 C442.6,418.8 445.6,420.0 445.6,422.8 V424 Z" fill="url(#gv)"/>
<path d="M483.2,424 V422.8 C483.2,420.0 486.2,418.8 490.95,418.8 C495.7,418.8 498.7,420.0 498.7,422.8 V424 Z" fill="url(#gv)"/>
<path d="M547.6,424 V422.8 C547.6,420.0 550.6,418.8 555.2,418.8 C559.8,418.8 562.8,420.0 562.8,422.8 V424 Z" fill="url(#gv)"/>
<path d="M375.8,403 V404.2 C375.8,407.0 378.8,408.2 383.75,408.2 C388.7,408.2 391.7,407.0 391.7,404.2 V403 Z" fill="url(#gv)"/>
<path d="M525,403 V404.2 C525,407.0 528,408.2 533.1,408.2 C538.2,408.2 541.2,407.0 541.2,404.2 V403 Z" fill="url(#gv)"/>
<path d="M139.7,232 V230.4 C139.7,227.6 142.7,226.4 147.5,226.4 C152.3,226.4 155.3,227.6 155.3,230.4 V232 Z" fill="url(#gv)"/>
<path d="M139.7,210.5 V211.8 C139.7,214.60000000000002 142.7,215.8 147.5,215.8 C152.3,215.8 155.3,214.60000000000002 155.3,211.8 V210.5 Z" fill="url(#gv)"/>
<line x1="155.57" y1="120.93" x2="181.71" y2="110.90" stroke="#bdbdbd" stroke-width="3.4"/><line x1="155.57" y1="120.93" x2="181.71" y2="110.90" stroke="#dadada" stroke-width="1.5"/><line x1="150.97" y1="116.33" x2="161.00" y2="90.19" stroke="#bdbdbd" stroke-width="3.4"/><line x1="150.97" y1="116.33" x2="161.00" y2="90.19" stroke="#dadada" stroke-width="1.5"/><line x1="145.23" y1="116.33" x2="135.20" y2="90.19" stroke="#bdbdbd" stroke-width="3.4"/><line x1="145.23" y1="116.33" x2="135.20" y2="90.19" stroke="#dadada" stroke-width="1.5"/><line x1="140.63" y1="120.93" x2="114.49" y2="110.90" stroke="#bdbdbd" stroke-width="3.4"/><line x1="140.63" y1="120.93" x2="114.49" y2="110.90" stroke="#dadada" stroke-width="1.5"/><line x1="140.63" y1="126.67" x2="114.49" y2="136.70" stroke="#bdbdbd" stroke-width="3.4"/><line x1="140.63" y1="126.67" x2="114.49" y2="136.70" stroke="#dadada" stroke-width="1.5"/><line x1="145.23" y1="131.27" x2="135.20" y2="157.41" stroke="#bdbdbd" stroke-width="3.4"/><line x1="145.23" y1="131.27" x2="135.20" y2="157.41" stroke="#dadada" stroke-width="1.5"/><line x1="150.97" y1="131.27" x2="161.00" y2="157.41" stroke="#bdbdbd" stroke-width="3.4"/><line x1="150.97" y1="131.27" x2="161.00" y2="157.41" stroke="#dadada" stroke-width="1.5"/><line x1="155.57" y1="126.67" x2="181.71" y2="136.70" stroke="#bdbdbd" stroke-width="3.4"/><line x1="155.57" y1="126.67" x2="181.71" y2="136.70" stroke="#dadada" stroke-width="1.5"/>
<circle cx="148.1" cy="123.8" r="36.2" fill="none" stroke="#b4b4b4" stroke-width="5.9"/>
<circle cx="148.1" cy="123.8" r="36.2" fill="none" stroke="#d0d0d0" stroke-width="3.6"/>
<circle cx="148.1" cy="123.8" r="35.6" fill="none" stroke="#dedede" stroke-width="1.2"/>
<circle cx="148.1" cy="123.8" r="7.4" fill="#ffffff" stroke="#c0c0c0" stroke-width="4.8"/>
<circle cx="148.1" cy="123.8" r="7.2" fill="none" stroke="#d8d8d8" stroke-width="2.6"/>
<path d="M93.5,285.3 H201.2 Q204.7,285.3 205.2,289 L217.3,437.3 Q217.6,442.3 213,442.3 H82.8 Q78.2,442.3 78.6,437.5 L89.8,289 Q90.2,285.3 93.5,285.3 Z" fill="#d4d4d4" stroke="#a2a2a2" stroke-width="1.1"/>
<path d="M93.8,288.2 H201.6 L214.3,439 H82 Z" fill="#c8c8c8"/>
<path d="M93.8,288.2 L115,300 L109.4,387.5 L85,437 L82,439 Z" fill="url(#bxl)"/>
<path d="M83.8,394 L109.4,387.6 L85,437 L82,439 Z" fill="#c7c7c7" filter="url(#b05)"/>
<path d="M93.8,288.2 H201.6 L190,302 L115,300 Z" fill="url(#bxt)"/>
<path d="M93.8,288.2 L115,300" stroke="#d8d8d8" stroke-width="1.6" fill="none" filter="url(#b05)"/>
<path d="M201.6,288.2 L214.3,439 L212.3,436.6 L198.3,387.5 L190,302 Z" fill="#cdcdcd"/>
<path d="M193.5,301 L203,380 L212.6,432" stroke="#dcdcdc" stroke-width="1.6" fill="none" filter="url(#b05)"/>
<path d="M115,300 L190,302 L198.3,387.6 H109.4 Z" fill="url(#bxf)"/>
<path d="M109.8,381 H197.7 L198.3,387.6 H109.4 Z" fill="#dcdcdc"/>
<path d="M190,302 L198.3,387.5" stroke="#ececec" stroke-width="1.7" fill="none"/>
<path d="M109.4,387.6 H198.3 L212.3,436.6 H85 Z" fill="url(#bxfr)"/>
<path d="M123.8,311.5 L131.8,371.3" stroke="#999999" stroke-width="2.6" fill="none"/>
<path d="M125.1,311.7 L133.1,371" stroke="#f2f2f2" stroke-width="1.6" fill="none"/>
<path d="M182.6,311.5 L179.6,371.3" stroke="#999999" stroke-width="2.6" fill="none"/>
<path d="M183.9,311.7 L180.9,371" stroke="#f2f2f2" stroke-width="1.6" fill="none"/>
<path d="M140,288.5 H152.5 L154,299 H137.5 Z" fill="#aeaeae" filter="url(#b1)"/>
<path d="M88,357 L110,360.5 L110,371 L87,367.5 Z" fill="#a8a8a8" opacity="0.8" filter="url(#b1)"/>
<path d="M198.5,365 L209,361.5 L209.5,364.5 L199,368.5 Z" fill="#dedede" opacity="0.8" filter="url(#b05)"/>
<rect x="325.7" y="108.39999999999999" width="3.2" height="15.7" fill="#c4c4c4"/><rect x="343.7" y="108.39999999999999" width="3.2" height="15.7" fill="#c4c4c4"/><rect x="323" y="119.0" width="25.5" height="2.4" fill="#c2c2c2"/><circle cx="336.7" cy="124.6" r="4.0" fill="#dadada" stroke="#bababa" stroke-width="2.5"/><path d="M316.7,110.19999999999999 H567 Q572,110.6 576.5,112.39999999999999 L598,112.69999999999999 L603,111.8 V117.39999999999999 L598,116.5 L576.5,116.8 Q572,118.6 567,119.0 H316.7 Z" fill="url(#gbar)"/><path d="M574,112.19999999999999 L598,112.69999999999999 L603,111.8 V117.39999999999999 L598,116.5 L574,117.0 Z" fill="#bcbcbc"/><path d="M574,113.0 L602.5,113.0" stroke="#d4d4d4" stroke-width="1.1"/>
<rect x="325.7" y="317.9" width="3.2" height="15.7" fill="#c4c4c4"/><rect x="343.7" y="317.9" width="3.2" height="15.7" fill="#c4c4c4"/><rect x="323" y="320.6" width="25.5" height="2.4" fill="#c2c2c2"/><circle cx="336.7" cy="317.4" r="4.0" fill="#dadada" stroke="#bababa" stroke-width="2.5"/><path d="M316.7,323.0 H567 Q572,323.4 576.5,325.2 L598,325.5 L603,324.59999999999997 V330.2 L598,329.29999999999995 L576.5,329.59999999999997 Q572,331.4 567,331.79999999999995 H316.7 Z" fill="url(#gbar)"/><path d="M574,325.0 L598,325.5 L603,324.59999999999997 V330.2 L598,329.29999999999995 L574,329.79999999999995 Z" fill="#bcbcbc"/><path d="M574,325.79999999999995 L602.5,325.79999999999995" stroke="#d4d4d4" stroke-width="1.1"/>
<polygon points="346.2,80.8 354.1,73.6 443.6,163.8 435.8,171.3" fill="#cfcfcf" stroke="#bdbdbd" stroke-width="0.8"/><polygon points="352.3,75.2 354.1,73.6 443.6,163.8 441.8,165.5" fill="#e0e0e0"/><line x1="346.2" y1="80.8" x2="435.8" y2="171.3" stroke="#a6a6a6" stroke-width="1.1"/><polygon points="470.5,110.2 473.2,106.1 484.3,105.9 445.1,164.8 440.2,171.6 424.4,172.2" fill="#d2d2d2" stroke="#bdbdbd" stroke-width="0.8"/><polygon points="481.6,106.0 484.3,105.9 445.1,164.8 442.9,165.8" fill="#e2e2e2"/><line x1="470.5" y1="110.2" x2="424.4" y2="172.2" stroke="#a8a8a8" stroke-width="1.1"/><line x1="424.4" y1="172.2" x2="440.2" y2="171.6" stroke="#b0b0b0" stroke-width="0.9"/><circle cx="386.9" cy="112.6" r="1.7" fill="#ececec" stroke="#9c9c9c" stroke-width="1"/><circle cx="473.0" cy="113.2" r="1.7" fill="#ececec" stroke="#9c9c9c" stroke-width="1"/><circle cx="438.4" cy="162.6" r="1.7" fill="#ececec" stroke="#9c9c9c" stroke-width="1"/>
<polygon points="346.2,361.2 354.1,368.4 443.6,278.2 435.8,270.7" fill="#cfcfcf" stroke="#bdbdbd" stroke-width="0.8"/><polygon points="352.3,366.8 354.1,368.4 443.6,278.2 441.8,276.5" fill="#e0e0e0"/><line x1="346.2" y1="361.2" x2="435.8" y2="270.7" stroke="#a6a6a6" stroke-width="1.1"/><polygon points="470.5,331.8 473.2,335.9 484.3,336.1 445.1,277.2 440.2,270.4 424.4,269.8" fill="#d2d2d2" stroke="#bdbdbd" stroke-width="0.8"/><polygon points="481.6,336.0 484.3,336.1 445.1,277.2 442.9,276.2" fill="#e2e2e2"/><line x1="470.5" y1="331.8" x2="424.4" y2="269.8" stroke="#a8a8a8" stroke-width="1.1"/><line x1="424.4" y1="269.8" x2="440.2" y2="270.4" stroke="#b0b0b0" stroke-width="0.9"/><circle cx="386.9" cy="329.4" r="1.7" fill="#ececec" stroke="#9c9c9c" stroke-width="1"/><circle cx="473.0" cy="328.8" r="1.7" fill="#ececec" stroke="#9c9c9c" stroke-width="1"/><circle cx="438.4" cy="279.4" r="1.7" fill="#ececec" stroke="#9c9c9c" stroke-width="1"/>
<path d="M319.5,462.4 H383 L385,466 L383.5,471.4 H319.5 L317.6,468 Z" fill="url(#gp)"/>
<rect x="423.2" y="462.2" width="80.9" height="5.6" fill="url(#gp)"/>
<rect x="432" y="467.2" width="62.8" height="4.3" fill="#bababa"/>
<path d="M546.5,462.6 H590 L592.9,465 V468.6 L590,471 H546.5 L544.3,468.8 V464.8 Z" fill="url(#gh)"/>
<rect x="563.2" y="460" width="6" height="13.6" rx="1.2" fill="url(#gh)" stroke="#a8a8a8" stroke-width="0.8"/>
<g clip-path="url(#cf)"><rect x="64.5" y="14.5" width="545.5" height="27.299999999999997" fill="url(#gft)"/><rect x="64.5" y="493.2" width="545.5" height="26.80000000000001" fill="url(#gfb)"/><rect x="14.5" y="64.5" width="27.1" height="405.5" fill="url(#gfl)"/><rect x="631.2" y="64.5" width="28.59999999999991" height="405.5" fill="url(#gfr)"/><path d="M65.5,65.5 L7.51,66.31 L8.35,55.63 Z" fill="url(#ctl0)"/><path d="M65.5,65.5 L8.09,57.23 L10.59,46.81 Z" fill="url(#ctl1)"/><path d="M65.5,65.5 L10.09,48.35 L14.19,38.45 Z" fill="url(#ctl2)"/><path d="M65.5,65.5 L13.46,39.89 L19.06,30.76 Z" fill="url(#ctl3)"/><path d="M65.5,65.5 L18.11,32.07 L25.06,23.92 Z" fill="url(#ctl4)"/><path d="M65.5,65.5 L23.92,25.06 L32.07,18.11 Z" fill="url(#ctl5)"/><path d="M65.5,65.5 L30.76,19.06 L39.89,13.46 Z" fill="url(#ctl6)"/><path d="M65.5,65.5 L38.45,14.19 L48.35,10.09 Z" fill="url(#ctl7)"/><path d="M65.5,65.5 L46.81,10.59 L57.23,8.09 Z" fill="url(#ctl8)"/><path d="M65.5,65.5 L55.63,8.35 L66.31,7.51 Z" fill="url(#ctl9)"/><path d="M609.0,65.5 L608.19,7.52 L618.87,8.36 Z" fill="url(#ctr0)"/><path d="M609.0,65.5 L617.27,8.12 L627.68,10.62 Z" fill="url(#ctr1)"/><path d="M609.0,65.5 L626.14,10.14 L636.03,14.24 Z" fill="url(#ctr2)"/><path d="M609.0,65.5 L634.58,13.52 L643.70,19.11 Z" fill="url(#ctr3)"/><path d="M609.0,65.5 L642.38,18.18 L650.52,25.13 Z" fill="url(#ctr4)"/><path d="M609.0,65.5 L649.36,24.00 L656.30,32.13 Z" fill="url(#ctr5)"/><path d="M609.0,65.5 L655.34,30.83 L660.92,39.95 Z" fill="url(#ctr6)"/><path d="M609.0,65.5 L660.17,38.52 L664.26,48.39 Z" fill="url(#ctr7)"/><path d="M609.0,65.5 L663.74,46.86 L666.24,57.25 Z" fill="url(#ctr8)"/><path d="M609.0,65.5 L665.97,55.66 L666.80,66.31 Z" fill="url(#ctr9)"/><path d="M609.0,469.0 L666.80,468.19 L665.97,478.84 Z" fill="url(#cbr0)"/><path d="M609.0,469.0 L666.24,477.25 L663.74,487.64 Z" fill="url(#cbr1)"/><path d="M609.0,469.0 L664.26,486.11 L660.17,495.98 Z" fill="url(#cbr2)"/><path d="M609.0,469.0 L660.92,494.55 L655.34,503.67 Z" fill="url(#cbr3)"/><path d="M609.0,469.0 L656.30,502.37 L649.36,510.50 Z" fill="url(#cbr4)"/><path d="M609.0,469.0 L650.52,509.37 L642.38,516.32 Z" fill="url(#cbr5)"/><path d="M609.0,469.0 L643.70,515.39 L634.58,520.98 Z" fill="url(#cbr6)"/><path d="M609.0,469.0 L636.03,520.26 L626.14,524.36 Z" fill="url(#cbr7)"/><path d="M609.0,469.0 L627.68,523.88 L617.27,526.38 Z" fill="url(#cbr8)"/><path d="M609.0,469.0 L618.87,526.14 L608.19,526.98 Z" fill="url(#cbr9)"/><path d="M65.5,469.0 L66.31,526.99 L55.63,526.15 Z" fill="url(#cbl0)"/><path d="M65.5,469.0 L57.23,526.41 L46.81,523.91 Z" fill="url(#cbl1)"/><path d="M65.5,469.0 L48.35,524.41 L38.45,520.31 Z" fill="url(#cbl2)"/><path d="M65.5,469.0 L39.89,521.04 L30.76,515.44 Z" fill="url(#cbl3)"/><path d="M65.5,469.0 L32.07,516.39 L23.92,509.44 Z" fill="url(#cbl4)"/><path d="M65.5,469.0 L25.06,510.58 L18.11,502.43 Z" fill="url(#cbl5)"/><path d="M65.5,469.0 L19.06,503.74 L13.46,494.61 Z" fill="url(#cbl6)"/><path d="M65.5,469.0 L14.19,496.05 L10.09,486.15 Z" fill="url(#cbl7)"/><path d="M65.5,469.0 L10.59,487.69 L8.09,477.27 Z" fill="url(#cbl8)"/><path d="M65.5,469.0 L8.35,478.87 L7.51,468.19 Z" fill="url(#cbl9)"/><path d="M65.5,26.2 H609.0 M65.5,504.7 H609.0" fill="none" stroke="#f2f2f2" stroke-width="1.5" stroke-opacity="0.35"/><path d="M28.9,65.5 V469.0 M646.3,65.5 V469.0" fill="none" stroke="#f2f2f2" stroke-width="1.5" stroke-opacity="0.45"/><path d="M28.9,65.5 A36.60,39.30 0 0 1 65.5,26.2" fill="none" stroke="#f2f2f2" stroke-width="1.7" stroke-opacity="0.8"/><path d="M609.0,26.2 A37.30,39.30 0 0 1 646.3,65.5" fill="none" stroke="#f2f2f2" stroke-width="1.7" stroke-opacity="0.8"/><path d="M646.3,469.0 A37.30,35.70 0 0 1 609.0,504.7" fill="none" stroke="#f2f2f2" stroke-width="1.7" stroke-opacity="0.8"/><path d="M65.5,504.7 A36.60,35.70 0 0 1 28.9,469.0" fill="none" stroke="#f2f2f2" stroke-width="1.7" stroke-opacity="0.8"/></g><path d="M257.6,43 V39.8 C257.6,36.3 260.6,34.8 267.20000000000005,34.8 C273.8,34.8 276.8,36.3 276.8,39.8 V43 Z" fill="url(#gv)"/><path d="M139.9,43 V41.5 C139.9,38.0 142.9,36.5 147.60000000000002,36.5 C152.3,36.5 155.3,38.0 155.3,41.5 V43 Z" fill="url(#gv)"/><path d="M375.8,43 V41.5 C375.8,38.0 378.8,36.5 383.75,36.5 C388.7,36.5 391.7,38.0 391.7,41.5 V43 Z" fill="url(#gv)"/><path d="M525,43 V41.5 C525,38.0 528,36.5 533.1,36.5 C538.2,36.5 541.2,38.0 541.2,41.5 V43 Z" fill="url(#gv)"/><path d="M257.6,492 V495.0 C257.6,497.0 260.6,497.5 267.20000000000005,497.5 C273.8,497.5 276.8,497.0 276.8,495.0 V492 Z" fill="url(#gv)"/><path d="M139.5,492 V494.0 C139.5,496.0 142.5,496.5 147.4,496.5 C152.3,496.5 155.3,496.0 155.3,494.0 V492 Z" fill="url(#gv)"/><path d="M630,211.7 H634.5 C638.0,211.7 639.5,214.7 639.5,221.14999999999998 C639.5,227.6 638.0,230.6 634.5,230.6 H630 Z" fill="url(#gh)"/><path d="M630,404.3 H634.5 C638.0,404.3 639.5,407.3 639.5,413.45000000000005 C639.5,419.6 638.0,422.6 634.5,422.6 H630 Z" fill="url(#gh)"/><path d="M43,211.7 H41 C39,211.7 38,214.7 38,221.14999999999998 C38,227.6 39,230.6 41,230.6 H43 Z" fill="url(#gh)"/>
</g>
</svg>
</body></html>
